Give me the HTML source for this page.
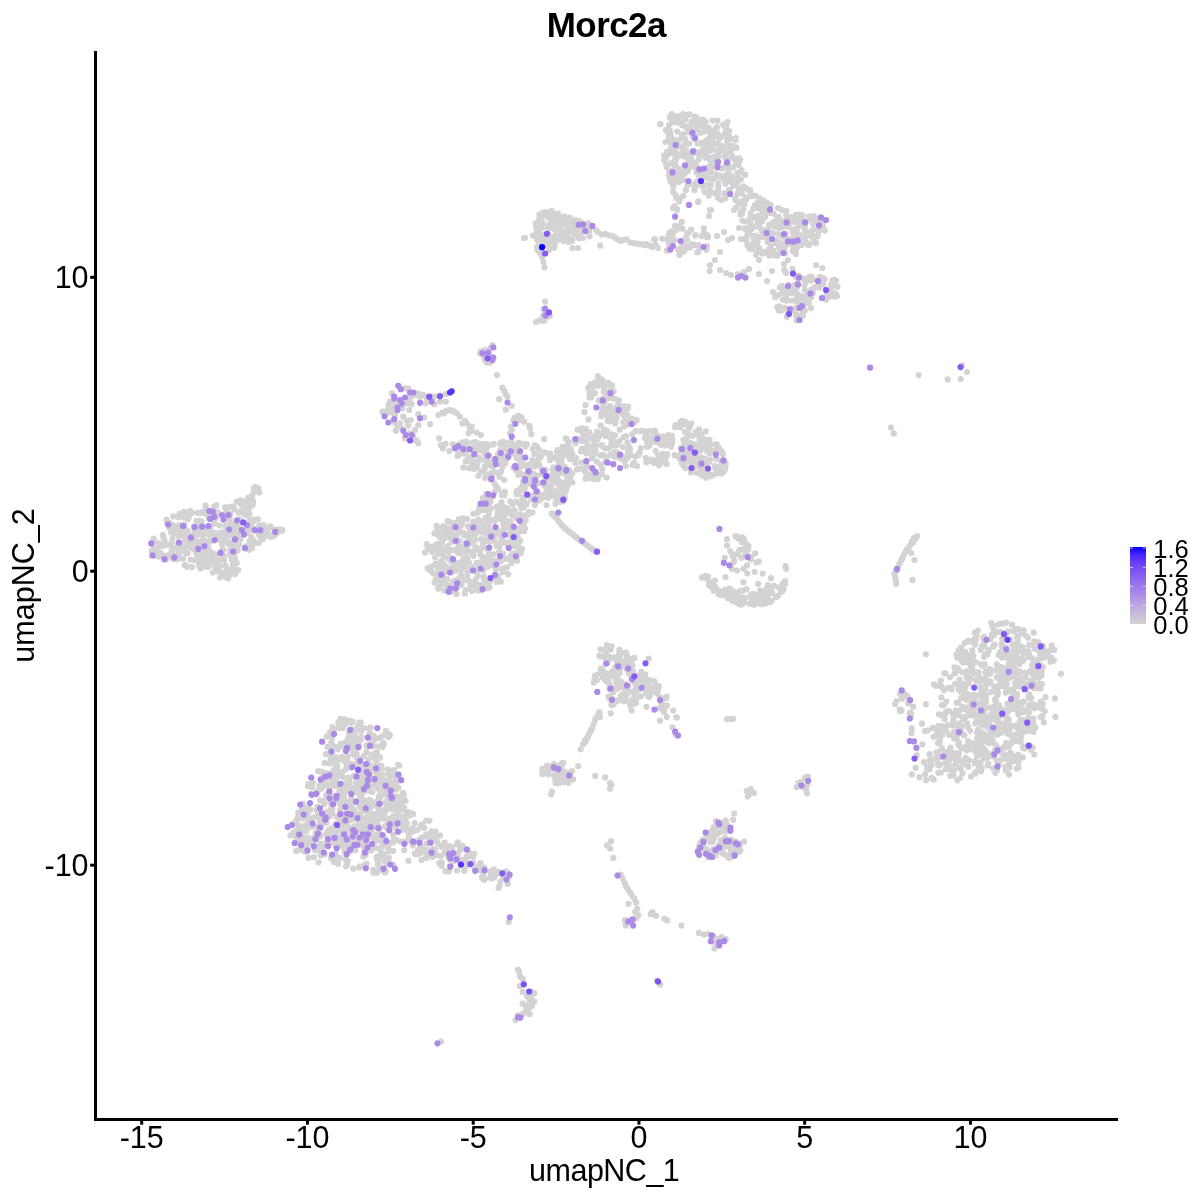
<!DOCTYPE html>
<html><head><meta charset="utf-8"><style>
html,body{margin:0;padding:0;background:#fff;width:1200px;height:1200px;overflow:hidden}
svg{display:block;will-change:transform}
text{font-family:"Liberation Sans",sans-serif;fill:#000}
.tk{font-size:30.5px}
.lg{font-size:25.5px}
</style></head><body>
<svg width="1200" height="1200" viewBox="0 0 1200 1200">
<rect width="1200" height="1200" fill="#fff"/>
<g fill="none" stroke-linecap="round" stroke-width="6.2">
<path stroke="#d3d3d3" d="M192.5 542.0h0M240.8 503.4h0M202.5 526.6h0M194.6 533.3h0M230.4 550.3h0M240.4 501.9h0M239.6 512.2h0M209.3 535.3h0M179.5 525.2h0M171.4 547.1h0M195.6 544.5h0M212.4 560.1h0M185.7 541.1h0M259.6 527.2h0M175.8 526.5h0M230.4 514.2h0M264.9 528.3h0M223.3 557.9h0M184.4 524.6h0M184.7 565.0h0M197.7 546.7h0M234.4 541.5h0M187.8 544.0h0M232.8 536.6h0M209.2 517.9h0M170.0 545.1h0M213.7 555.2h0M213.9 519.2h0M184.2 511.5h0M184.9 539.4h0M214.8 533.1h0M178.4 554.9h0M216.5 505.2h0M183.0 558.7h0M174.1 533.1h0M265.9 535.2h0M250.8 544.7h0M232.1 526.2h0M252.1 505.3h0M183.4 544.1h0M233.0 567.2h0M222.1 539.4h0M173.3 516.4h0M183.2 529.7h0M160.7 555.1h0M207.5 528.8h0M233.1 571.8h0M178.1 516.9h0M209.3 510.7h0M187.0 530.5h0M172.5 530.6h0M224.1 560.6h0M199.2 558.0h0M218.1 512.4h0M194.7 540.0h0M187.9 531.4h0M187.8 553.1h0M214.7 563.5h0M153.5 538.7h0M250.5 546.1h0M194.4 527.4h0M196.5 524.4h0M206.7 553.9h0M214.6 534.3h0M255.2 487.1h0M245.0 531.5h0M186.7 553.5h0M196.6 554.3h0M253.2 540.2h0M196.2 525.4h0M214.1 553.9h0M172.6 525.1h0M221.7 575.2h0M207.1 560.5h0M171.8 551.3h0M247.2 531.5h0M219.5 525.5h0M245.3 532.3h0M251.8 503.5h0M232.8 506.6h0M222.1 544.5h0M169.6 554.5h0M267.9 533.0h0M216.4 571.2h0M223.3 573.2h0M190.7 559.7h0M243.5 505.5h0M166.0 559.3h0M251.9 496.2h0M208.7 526.9h0M252.7 504.9h0M205.5 505.7h0M155.7 556.0h0M179.4 547.9h0M281.9 531.0h0M154.1 547.9h0M237.7 533.7h0M196.3 530.0h0M200.0 563.6h0M179.6 535.5h0M263.1 539.1h0M213.2 554.6h0M203.6 534.1h0M164.5 540.4h0M217.7 537.8h0M258.8 543.0h0M214.3 523.1h0M221.3 537.3h0M170.2 526.3h0M230.7 549.6h0M271.8 536.1h0M179.8 516.5h0M237.6 537.7h0M240.6 539.1h0M178.6 536.5h0M194.8 537.7h0M208.4 526.3h0M211.7 515.0h0M191.7 513.0h0M254.6 543.0h0M218.6 571.0h0M214.1 506.8h0M253.7 520.7h0M199.1 565.4h0M170.3 524.5h0M187.0 537.7h0M207.0 558.3h0M215.1 555.7h0M154.5 554.5h0M230.2 519.6h0M224.4 514.2h0M178.4 550.9h0M158.8 556.5h0M185.0 547.2h0M241.8 504.4h0M194.2 528.2h0M171.9 557.3h0M257.8 519.4h0M178.3 543.5h0M201.2 534.8h0M270.7 537.0h0M201.6 521.6h0M207.0 552.0h0M242.3 512.6h0M194.4 549.8h0M199.3 520.7h0M215.7 554.5h0M210.8 541.1h0M183.1 547.6h0M201.7 564.1h0M205.4 513.8h0M186.9 533.6h0M189.2 516.3h0M167.2 523.5h0M250.9 540.5h0M207.9 514.3h0M222.0 550.4h0M217.8 533.3h0M238.6 527.2h0M172.6 531.3h0M197.6 531.1h0M199.8 541.7h0M207.3 547.3h0M247.7 515.3h0M156.3 553.3h0M214.3 562.4h0M254.0 487.9h0M173.6 547.5h0M201.3 528.2h0M237.9 550.4h0M189.5 542.8h0M158.8 543.4h0M170.2 525.3h0M194.8 549.0h0M188.5 515.4h0M239.5 519.3h0M196.4 520.8h0M248.0 508.2h0M249.7 520.6h0M203.4 539.7h0M208.0 567.0h0M231.2 570.7h0M249.3 528.7h0M258.7 530.5h0M206.0 532.7h0M238.4 512.7h0M239.8 522.8h0M216.9 534.5h0M172.4 554.2h0M259.3 525.7h0M182.6 544.8h0M178.2 558.5h0M245.9 546.3h0M233.1 545.8h0M191.0 536.2h0M183.9 517.6h0M274.8 529.5h0M225.8 527.6h0M211.4 540.9h0M204.1 511.3h0M200.6 568.4h0M171.0 532.4h0M234.8 549.1h0M197.7 512.9h0M268.3 529.1h0M166.5 519.7h0M212.8 572.5h0M228.6 544.0h0M247.9 532.6h0M238.0 570.0h0M207.2 562.8h0M248.3 500.8h0M201.2 512.8h0M207.4 541.8h0M169.1 527.5h0M229.0 542.5h0M276.7 533.1h0M163.4 537.2h0M190.2 510.9h0M187.3 566.8h0M226.8 529.0h0M222.0 536.1h0M182.1 551.1h0M251.6 528.2h0M184.2 514.4h0M215.5 563.4h0M227.8 533.2h0M159.1 545.4h0M212.1 563.5h0M195.8 535.5h0M154.6 541.3h0M188.0 515.8h0M249.8 507.0h0M186.2 532.9h0M243.5 530.6h0M245.2 514.7h0M162.8 535.1h0M261.8 527.6h0M226.8 510.4h0M226.1 531.9h0M267.0 531.8h0M201.1 565.0h0M172.4 538.9h0M205.6 505.7h0M210.7 529.0h0M223.5 550.1h0M253.1 503.2h0M235.0 558.3h0M202.9 556.3h0M237.9 526.4h0M202.6 511.8h0M183.1 543.6h0M229.5 554.6h0M249.1 549.2h0M231.6 559.3h0M184.2 536.8h0M236.2 537.6h0M205.2 513.1h0M209.9 511.1h0M151.6 550.8h0M189.1 541.3h0M216.0 517.9h0M203.4 566.4h0M199.6 546.3h0M235.2 537.2h0M241.8 506.1h0M226.5 537.4h0M190.4 547.3h0M209.2 562.2h0M251.1 543.2h0M223.2 555.6h0M249.6 541.3h0M225.1 507.4h0M249.7 505.0h0M172.1 528.4h0M197.3 529.7h0M183.4 532.0h0M226.1 577.3h0M248.8 508.5h0M170.3 526.9h0M158.3 550.5h0M249.3 528.1h0M226.1 571.8h0M205.7 512.1h0M192.1 548.0h0M251.9 548.2h0M178.2 528.9h0M185.9 529.8h0M226.1 512.8h0M188.9 540.9h0M164.5 559.5h0M173.2 559.1h0M249.5 513.8h0M211.6 533.2h0M225.3 565.5h0M239.2 544.8h0M218.9 559.9h0M225.4 518.1h0M233.6 525.9h0M188.5 537.1h0M165.4 555.9h0M230.3 574.1h0M224.1 538.8h0M251.5 524.0h0M232.6 524.7h0M227.2 542.3h0M244.4 501.6h0M253.2 501.0h0M232.0 527.9h0M195.2 560.4h0M182.3 514.2h0M234.4 533.1h0M165.9 544.8h0M204.7 549.7h0M183.7 542.6h0M234.2 524.3h0M177.3 558.8h0M228.4 532.3h0M202.4 552.1h0M191.8 567.2h0M160.9 553.0h0M198.9 549.5h0M169.4 522.6h0M251.2 536.8h0M210.4 551.6h0M225.8 525.9h0M208.5 554.5h0M188.1 519.1h0M179.8 513.6h0M232.8 564.8h0M229.3 527.7h0M219.9 540.0h0M191.2 543.2h0M208.2 546.9h0M223.4 515.1h0M155.0 555.3h0M262.7 532.6h0M233.3 566.1h0M227.1 516.9h0M163.2 546.0h0M176.3 559.3h0M194.2 526.6h0M211.5 557.3h0M198.0 521.7h0M223.3 576.2h0M185.2 565.2h0M218.1 564.4h0M252.0 496.1h0M234.4 553.6h0M233.3 532.3h0M278.9 529.8h0M210.1 553.1h0M171.5 542.6h0M180.8 532.1h0M204.0 558.3h0M213.8 523.6h0M230.1 521.5h0M234.4 509.2h0M229.0 507.3h0M236.7 530.8h0M248.4 532.5h0M221.7 532.6h0M264.6 536.2h0M253.7 519.7h0M178.9 529.2h0M160.9 544.2h0M199.1 565.7h0M249.0 549.8h0M217.4 565.2h0M557.8 459.6h0M534.9 445.4h0M520.3 473.1h0M523.1 464.0h0M472.6 442.5h0M500.1 450.4h0M517.3 444.0h0M516.6 458.0h0M507.5 458.3h0M469.0 468.2h0M527.4 473.7h0M557.9 470.4h0M529.1 477.1h0M468.2 448.1h0M552.6 457.5h0M539.1 449.8h0M471.5 466.0h0M532.2 460.0h0M550.0 478.7h0M514.4 451.1h0M477.5 463.3h0M520.5 473.0h0M486.2 457.0h0M507.8 451.0h0M483.6 445.4h0M557.7 453.2h0M491.8 464.7h0M479.1 450.0h0M561.7 458.7h0M483.2 451.3h0M520.6 463.3h0M539.3 465.4h0M454.8 445.9h0M558.6 468.1h0M452.8 444.4h0M568.0 444.8h0M475.6 465.7h0M560.6 464.6h0M524.6 465.5h0M566.7 446.9h0M504.5 459.8h0M467.5 460.0h0M537.0 446.5h0M548.3 454.2h0M566.3 472.9h0M544.7 452.4h0M485.0 468.1h0M465.7 461.4h0M533.9 460.9h0M534.7 461.1h0M505.7 447.0h0M479.9 459.6h0M485.3 454.2h0M492.9 466.8h0M475.3 442.1h0M500.7 442.6h0M485.3 444.1h0M519.1 442.9h0M540.0 456.2h0M500.1 458.2h0M568.5 441.8h0M569.3 470.4h0M474.1 461.9h0M495.3 460.7h0M539.0 456.9h0M563.5 449.3h0M476.7 467.4h0M489.3 445.1h0M485.7 459.2h0M486.2 450.6h0M561.4 467.4h0M507.0 446.9h0M559.9 453.5h0M562.2 472.7h0M484.6 466.8h0M489.0 455.0h0M523.1 443.9h0M528.5 468.8h0M538.5 463.6h0M564.3 470.9h0M529.1 469.8h0M484.3 452.6h0M534.4 466.6h0M460.6 443.9h0M493.6 444.6h0M514.1 453.6h0M540.7 456.8h0M485.1 478.1h0M518.2 458.9h0M511.3 441.5h0M457.5 445.2h0M542.2 469.7h0M538.2 460.3h0M515.1 447.6h0M470.9 467.8h0M508.3 447.2h0M533.4 473.9h0M464.4 442.4h0M501.9 464.5h0M462.7 442.3h0M505.2 463.6h0M467.1 443.4h0M489.1 476.3h0M495.6 460.2h0M545.6 470.2h0M499.4 476.7h0M457.5 455.8h0M525.6 446.5h0M500.2 444.1h0M557.3 469.5h0M526.8 444.2h0M449.3 451.1h0M557.0 452.2h0M468.3 457.1h0M518.8 445.1h0M479.3 443.5h0M467.2 450.6h0M557.5 456.1h0M534.3 461.1h0M481.1 471.4h0M545.9 474.5h0M468.8 460.5h0M543.0 470.5h0M523.3 475.2h0M550.0 460.2h0M500.7 464.3h0M534.3 453.8h0M542.9 474.6h0M515.1 446.2h0M513.3 467.5h0M529.0 472.1h0M495.6 472.4h0M493.7 443.9h0M519.3 453.9h0M477.5 462.4h0M528.9 464.7h0M507.6 443.5h0M442.8 448.4h0M561.5 471.5h0M554.3 474.2h0M491.1 473.0h0M464.1 445.7h0M495.5 460.7h0M552.8 469.9h0M458.5 453.0h0M460.0 453.8h0M531.9 475.4h0M566.7 475.3h0M562.7 446.5h0M474.4 448.0h0M566.5 472.2h0M501.1 471.6h0M474.0 468.7h0M478.4 475.7h0M532.7 448.7h0M504.9 448.4h0M516.2 469.9h0M555.9 457.7h0M569.7 449.2h0M513.8 449.9h0M486.9 447.1h0M512.2 450.5h0M564.6 466.9h0M490.1 462.1h0M568.7 470.1h0M490.2 465.3h0M445.6 443.8h0M604.1 402.6h0M616.9 411.8h0M604.3 413.4h0M628.1 424.3h0M607.3 409.8h0M619.0 400.3h0M609.6 385.4h0M589.6 396.8h0M612.8 408.4h0M598.7 383.0h0M636.6 420.2h0M624.5 421.7h0M609.8 420.5h0M623.2 422.2h0M634.2 422.5h0M612.4 419.4h0M612.1 385.3h0M615.2 409.0h0M604.4 401.3h0M602.4 409.3h0M608.4 398.1h0M605.3 392.4h0M625.5 419.5h0M617.6 405.2h0M608.9 409.5h0M599.4 401.1h0M634.3 421.1h0M591.7 389.8h0M610.0 405.8h0M602.7 380.3h0M608.3 382.8h0M613.2 391.6h0M624.2 406.0h0M627.0 415.2h0M621.5 407.7h0M613.6 412.0h0M631.4 418.3h0M613.7 391.1h0M627.5 408.7h0M607.8 416.0h0M611.9 434.9h0M607.4 413.7h0M623.6 415.0h0M601.0 399.7h0M600.4 378.9h0M605.9 397.8h0M602.1 382.9h0M630.2 418.8h0M615.3 423.4h0M622.8 414.0h0M601.2 414.1h0M590.9 384.1h0M628.1 406.7h0M628.5 418.0h0M632.4 420.7h0M591.6 393.5h0M623.4 411.8h0M627.4 419.5h0M601.9 412.5h0M603.9 390.0h0M618.5 403.8h0M610.4 415.5h0M610.1 421.5h0M594.9 393.1h0M625.1 421.6h0M604.6 385.6h0M610.8 408.5h0M589.7 397.4h0M591.1 390.4h0M599.8 380.9h0M604.1 387.8h0M607.5 421.0h0M598.8 400.3h0M595.3 385.7h0M613.2 398.4h0M629.4 420.3h0M596.1 382.2h0M613.2 412.3h0M617.2 412.4h0M603.4 406.4h0M628.6 418.1h0M627.0 407.9h0M594.2 383.2h0M626.9 416.4h0M605.7 409.3h0M616.7 417.8h0M590.1 387.0h0M603.1 399.1h0M615.0 398.8h0M650.0 441.9h0M668.3 440.3h0M665.7 441.2h0M649.9 444.1h0M647.3 442.4h0M645.4 436.8h0M663.1 436.3h0M653.6 433.8h0M662.7 438.9h0M650.3 438.3h0M646.4 435.3h0M649.5 440.8h0M658.9 436.5h0M661.0 437.8h0M672.2 442.6h0M649.3 445.7h0M655.6 433.5h0M664.9 445.5h0M646.6 439.5h0M656.0 442.2h0M649.7 431.0h0M669.9 444.8h0M650.6 459.8h0M652.1 459.9h0M667.2 454.2h0M662.3 458.4h0M646.3 462.4h0M654.8 461.2h0M662.7 453.6h0M657.8 459.8h0M662.9 457.7h0M666.9 455.5h0M693.5 457.2h0M721.5 460.3h0M716.4 473.6h0M691.4 423.3h0M685.4 454.8h0M698.8 463.0h0M680.4 427.5h0M707.1 451.1h0M700.7 450.2h0M714.3 450.5h0M680.6 457.8h0M699.1 459.6h0M688.7 459.2h0M704.6 469.7h0M705.7 431.3h0M689.5 453.9h0M689.5 448.1h0M711.4 476.1h0M690.9 472.4h0M699.7 438.5h0M704.4 466.2h0M692.2 458.4h0M706.4 476.5h0M720.3 450.9h0M699.1 435.8h0M680.9 421.4h0M701.4 435.1h0M685.7 424.1h0M681.0 448.2h0M715.4 468.8h0M696.2 461.7h0M683.4 439.9h0M705.2 458.7h0M700.8 440.9h0M716.4 444.1h0M681.5 450.2h0M684.6 442.1h0M716.8 466.8h0M718.7 447.8h0M705.6 464.3h0M711.9 475.1h0M686.6 447.5h0M695.3 445.1h0M703.3 461.6h0M680.5 422.7h0M721.8 451.6h0M718.1 472.5h0M706.8 446.9h0M697.0 447.6h0M685.6 422.0h0M704.4 445.3h0M721.1 451.7h0M714.8 466.2h0M705.1 439.6h0M683.4 465.8h0M698.6 431.8h0M691.9 464.5h0M679.4 458.0h0M705.3 443.1h0M686.8 438.0h0M689.3 461.1h0M685.4 446.7h0M705.5 477.0h0M685.3 468.1h0M675.5 426.1h0M703.5 467.3h0M710.3 459.7h0M693.4 471.2h0M717.3 447.3h0M723.6 465.6h0M720.9 473.6h0M699.0 429.3h0M697.5 473.1h0M689.2 428.6h0M683.8 422.9h0M699.2 450.9h0M705.6 474.2h0M693.0 443.8h0M695.6 432.3h0M702.2 475.4h0M683.4 449.6h0M723.4 459.7h0M690.0 426.1h0M692.7 455.3h0M723.0 464.8h0M682.9 422.7h0M687.5 445.1h0M711.1 475.3h0M688.4 453.7h0M695.3 434.1h0M687.7 436.2h0M725.3 467.2h0M709.0 446.4h0M675.0 427.3h0M694.4 466.2h0M701.0 457.3h0M706.3 477.8h0M706.9 460.9h0M719.5 467.4h0M699.4 442.9h0M694.7 466.0h0M701.7 470.6h0M702.9 472.3h0M681.6 463.1h0M675.6 425.1h0M685.3 460.9h0M687.2 448.1h0M721.2 471.1h0M680.7 453.4h0M697.9 463.8h0M723.0 472.5h0M700.4 470.1h0M687.9 456.4h0M696.8 463.6h0M705.6 447.0h0M700.6 444.7h0M722.8 454.1h0M724.0 461.9h0M694.8 460.9h0M699.9 448.6h0M681.8 424.7h0M712.2 451.2h0M683.0 450.8h0M700.7 457.9h0M695.6 456.5h0M685.2 462.4h0M709.8 453.2h0M695.2 452.1h0M696.9 465.4h0M692.6 435.8h0M711.3 444.5h0M698.1 464.7h0M686.4 445.0h0M724.8 469.9h0M709.4 462.0h0M721.5 462.8h0M684.3 444.2h0M698.6 446.9h0M707.7 470.7h0M699.8 440.7h0M683.9 451.0h0M725.8 463.7h0M680.7 454.3h0M709.4 439.9h0M692.6 463.7h0M698.2 430.4h0M700.1 462.8h0M685.0 444.4h0M688.2 434.4h0M690.0 443.1h0M698.3 432.9h0M685.4 454.2h0M685.1 432.1h0M691.5 450.8h0M716.7 459.2h0M688.0 456.3h0M682.9 420.9h0M701.6 444.8h0M691.0 457.7h0M724.8 461.9h0M456.3 527.5h0M501.8 495.0h0M595.1 477.7h0M499.5 547.6h0M520.8 521.9h0M453.9 562.2h0M552.7 490.7h0M439.1 586.7h0M499.5 507.3h0M507.7 544.8h0M546.6 505.0h0M501.9 568.9h0M487.5 537.3h0M585.5 478.8h0M461.0 570.1h0M442.0 541.9h0M452.1 523.6h0M459.5 541.2h0M507.1 509.8h0M444.8 528.3h0M476.5 571.1h0M471.0 566.3h0M519.7 528.5h0M571.3 481.8h0M513.4 529.5h0M509.1 534.2h0M520.8 552.9h0M487.2 508.1h0M513.4 530.6h0M569.8 482.1h0M434.4 548.0h0M487.4 499.6h0M495.3 560.9h0M441.8 547.4h0M490.9 508.4h0M481.9 510.1h0M488.1 549.3h0M499.7 518.9h0M517.8 536.5h0M562.4 483.8h0M465.6 590.1h0M459.3 532.2h0M523.0 498.8h0M477.8 528.8h0M475.3 582.9h0M503.6 526.0h0M455.4 568.9h0M606.7 477.6h0M485.2 585.3h0M483.1 526.4h0M469.9 588.6h0M455.5 570.7h0M451.5 590.9h0M558.8 489.4h0M492.4 532.3h0M514.7 542.1h0M529.9 483.8h0M436.2 544.3h0M494.1 539.7h0M473.5 556.0h0M474.3 569.0h0M556.7 497.0h0M471.7 528.2h0M436.5 526.6h0M484.4 507.9h0M487.2 566.9h0M473.2 533.4h0M535.5 494.3h0M442.7 573.9h0M441.4 583.9h0M471.2 531.1h0M487.8 563.0h0M477.7 587.7h0M460.0 567.2h0M443.8 539.1h0M463.5 558.5h0M444.9 569.7h0M496.7 506.8h0M469.1 540.8h0M484.0 576.9h0M477.0 548.9h0M440.6 561.7h0M516.3 492.1h0M504.4 535.2h0M478.0 590.6h0M427.8 548.8h0M482.4 559.6h0M461.4 547.3h0M476.8 562.9h0M444.9 584.1h0M462.0 523.4h0M475.0 525.1h0M590.0 478.1h0M523.3 497.6h0M499.1 552.4h0M565.9 490.7h0M451.9 541.7h0M480.8 504.4h0M495.7 518.9h0M489.2 509.4h0M504.8 513.7h0M467.8 560.6h0M440.9 551.0h0M544.9 486.1h0M506.9 508.1h0M562.1 494.7h0M444.4 565.0h0M497.7 512.9h0M460.5 553.1h0M451.2 539.3h0M459.1 519.2h0M456.5 594.0h0M526.7 504.1h0M513.3 514.8h0M503.5 523.3h0M464.5 562.5h0M458.2 563.3h0M455.2 582.9h0M532.1 496.2h0M466.0 550.5h0M538.7 500.6h0M523.4 490.3h0M465.6 568.7h0M511.5 539.1h0M483.0 498.2h0M461.3 566.0h0M534.8 505.1h0M460.6 575.9h0M524.5 498.2h0M468.8 537.2h0M487.4 582.1h0M521.6 508.3h0M496.6 578.1h0M501.9 531.6h0M562.8 486.7h0M515.9 553.7h0M455.7 522.8h0M488.8 530.2h0M447.4 585.1h0M510.7 530.1h0M515.4 557.9h0M523.2 501.9h0M488.8 507.9h0M469.1 528.1h0M516.2 532.2h0M467.5 573.9h0M440.5 567.0h0M505.3 512.8h0M480.5 550.1h0M485.4 501.1h0M444.2 556.3h0M483.6 570.5h0M463.9 533.0h0M500.0 518.8h0M446.9 571.5h0M461.4 575.5h0M454.2 534.2h0M503.0 506.6h0M523.9 487.2h0M495.2 567.2h0M473.2 521.9h0M435.8 577.6h0M514.6 510.3h0M460.3 585.2h0M503.6 530.0h0M475.5 540.1h0M475.5 534.1h0M485.0 519.5h0M447.9 558.5h0M558.8 484.4h0M502.4 513.6h0M503.4 495.1h0M427.7 568.3h0M514.3 546.3h0M498.2 576.3h0M450.7 588.5h0M487.9 588.3h0M444.2 527.4h0M487.7 533.6h0M482.8 544.4h0M512.2 559.4h0M445.0 569.2h0M451.9 567.7h0M480.3 521.3h0M482.1 586.0h0M513.5 536.9h0M447.5 531.5h0M549.5 494.7h0M508.7 525.2h0M496.3 529.6h0M461.9 521.3h0M524.7 484.1h0M600.3 474.9h0M501.1 538.0h0M432.1 551.8h0M495.4 529.5h0M453.3 581.5h0M489.1 565.3h0M440.3 553.6h0M506.5 542.9h0M445.5 570.7h0M446.2 567.5h0M494.4 483.4h0M464.4 535.4h0M512.3 553.3h0M522.6 485.8h0M495.1 534.3h0M447.7 521.0h0M451.0 561.3h0M504.9 510.1h0M493.5 554.1h0M497.3 515.4h0M485.5 532.4h0M435.1 557.3h0M447.1 534.6h0M519.4 503.8h0M450.5 537.8h0M454.0 590.2h0M512.3 504.5h0M439.4 543.7h0M505.0 491.8h0M490.5 501.8h0M447.8 546.0h0M478.2 519.7h0M442.5 534.5h0M553.7 482.8h0M452.6 571.5h0M525.9 483.6h0M450.6 591.8h0M450.3 589.2h0M495.1 491.4h0M500.7 561.2h0M444.5 568.3h0M479.5 585.1h0M453.7 568.8h0M513.4 536.5h0M478.8 510.4h0M486.3 493.9h0M438.0 571.8h0M480.3 554.3h0M460.2 527.3h0M493.8 540.6h0M563.5 501.3h0M457.0 584.4h0M441.2 577.4h0M601.8 473.9h0M520.2 540.8h0M512.8 541.3h0M510.5 511.6h0M501.9 515.5h0M544.5 481.3h0M479.6 507.1h0M590.3 477.3h0M467.1 519.0h0M503.1 553.6h0M438.3 552.7h0M467.1 547.5h0M565.2 491.8h0M436.7 525.9h0M553.0 480.9h0M475.8 579.4h0M511.7 515.1h0M454.7 565.0h0M524.2 506.8h0M524.2 519.2h0M454.9 590.9h0M491.9 496.6h0M490.9 565.1h0M566.4 487.1h0M437.2 549.9h0M490.9 497.6h0M517.1 492.4h0M496.5 581.8h0M430.3 570.4h0M479.9 562.8h0M443.2 526.2h0M522.9 484.4h0M438.9 579.8h0M434.5 546.9h0M452.3 550.0h0M507.3 567.3h0M522.7 488.2h0M506.3 542.7h0M537.8 498.6h0M502.2 493.0h0M516.0 518.2h0M433.1 573.0h0M444.2 532.6h0M520.8 531.0h0M512.3 541.9h0M496.7 545.9h0M547.8 488.3h0M445.4 535.1h0M431.3 566.6h0M489.3 541.4h0M497.7 507.9h0M488.1 550.1h0M509.5 512.0h0M510.4 555.9h0M448.1 529.2h0M473.0 583.0h0M485.9 517.6h0M454.5 562.9h0M451.6 533.4h0M531.4 499.5h0M523.3 515.4h0M501.5 502.4h0M528.3 514.4h0M476.6 547.6h0M484.0 562.8h0M565.8 482.7h0M469.1 534.5h0M467.3 578.2h0M457.1 535.0h0M503.1 510.3h0M472.5 554.8h0M443.0 564.4h0M534.8 488.4h0M449.3 532.1h0M486.5 525.3h0M485.3 496.2h0M464.9 593.5h0M460.8 562.3h0M486.6 540.3h0M502.3 532.7h0M546.2 492.3h0M518.6 493.5h0M516.4 557.0h0M504.0 542.0h0M487.9 581.7h0M517.1 560.7h0M464.2 580.1h0M555.5 503.8h0M468.0 526.1h0M457.3 579.6h0M435.5 563.8h0M450.0 557.7h0M525.1 504.4h0M487.0 535.6h0M452.7 540.8h0M484.6 509.9h0M481.9 540.0h0M524.3 489.4h0M542.8 496.2h0M483.8 557.3h0M458.3 552.7h0M458.7 568.3h0M510.2 501.3h0M537.4 496.0h0M523.1 481.6h0M494.5 520.8h0M523.0 525.3h0M518.9 551.8h0M438.7 529.1h0M522.4 518.7h0M494.2 561.4h0M466.0 542.6h0M489.0 513.5h0M519.6 514.4h0M516.7 491.1h0M514.4 532.6h0M524.2 531.2h0M493.2 540.6h0M437.3 549.6h0M436.4 532.1h0M516.7 492.3h0M551.3 485.3h0M464.6 535.1h0M489.8 519.7h0M466.0 560.7h0M445.7 527.0h0M460.1 583.1h0M434.6 582.4h0M505.2 567.8h0M511.2 529.6h0M473.4 513.8h0M460.2 582.4h0M438.6 533.4h0M483.6 498.0h0M461.6 584.5h0M470.7 541.2h0M489.9 581.2h0M450.0 528.9h0M528.6 512.0h0M510.3 521.7h0M511.6 532.0h0M430.9 568.3h0M513.4 510.6h0M512.1 544.7h0M508.7 527.2h0M500.6 504.8h0M456.4 549.7h0M453.0 581.9h0M485.0 559.1h0M471.5 534.9h0M505.3 520.2h0M446.9 588.9h0M551.4 495.2h0M434.4 533.5h0M434.9 546.7h0M504.9 558.7h0M449.2 558.3h0M485.6 506.6h0M470.0 570.0h0M498.2 488.8h0M467.1 558.1h0M500.6 534.8h0M563.3 499.5h0M518.7 546.8h0M495.1 534.4h0M482.3 504.9h0M466.7 563.0h0M548.0 485.3h0M442.3 575.2h0M565.7 491.5h0M463.4 518.3h0M471.3 589.8h0M511.3 563.1h0M465.4 551.9h0M520.3 488.8h0M483.6 532.1h0M503.4 542.4h0M483.7 546.9h0M469.0 562.8h0M481.3 539.0h0M456.4 587.4h0M515.9 535.1h0M466.7 551.7h0M488.9 524.9h0M439.9 537.1h0M450.2 522.1h0M522.3 498.4h0M470.5 585.8h0M505.3 513.9h0M458.4 545.1h0M572.4 482.5h0M523.9 523.1h0M468.9 580.8h0M430.7 569.7h0M478.9 521.7h0M468.9 535.3h0M448.9 551.6h0M459.9 547.8h0M548.2 497.8h0M544.2 497.1h0M498.4 543.5h0M488.8 554.4h0M559.8 495.6h0M554.1 482.6h0M480.7 590.4h0M475.0 550.2h0M593.7 478.9h0M537.1 498.3h0M487.0 558.1h0M522.1 549.0h0M551.1 489.4h0M527.4 483.1h0M475.5 585.6h0M473.3 568.2h0M597.8 479.1h0M516.1 501.6h0M481.1 585.1h0M489.6 587.2h0M441.4 561.0h0M514.6 558.9h0M547.6 496.4h0M495.8 570.3h0M447.7 558.3h0M491.3 559.9h0M472.1 551.7h0M534.0 495.3h0M548.9 485.6h0M487.1 588.2h0M444.5 578.3h0M438.3 588.7h0M525.7 520.3h0M506.4 559.0h0M454.3 581.1h0M442.4 583.9h0M504.4 495.4h0M462.5 549.3h0M472.7 543.7h0M447.7 528.8h0M438.2 535.1h0M498.0 578.4h0M557.6 493.0h0M512.1 527.9h0M441.7 562.8h0M480.4 504.6h0M483.9 578.9h0M449.0 537.2h0M440.5 577.7h0M446.9 578.9h0M501.8 541.9h0M516.6 554.2h0M452.4 535.4h0M472.1 591.0h0M448.6 571.3h0M476.0 526.1h0M502.8 571.9h0M455.0 550.3h0M477.6 512.7h0M480.5 524.9h0M477.9 575.4h0M490.6 540.4h0M515.3 536.9h0M564.8 497.7h0M481.6 532.5h0M444.3 590.5h0M479.2 568.4h0M496.3 486.4h0M437.2 566.5h0M515.7 541.1h0M653.5 437.6h0M586.4 450.5h0M639.6 452.6h0M591.9 458.3h0M604.5 447.9h0M624.0 457.3h0M623.7 437.1h0M613.4 453.8h0M596.6 461.6h0M581.9 431.4h0M588.8 476.5h0M612.1 455.5h0M594.1 454.5h0M630.0 449.8h0M661.7 460.2h0M629.5 447.4h0M553.5 467.3h0M659.0 465.3h0M674.6 455.2h0M611.3 443.9h0M627.9 452.1h0M641.5 430.6h0M672.4 440.0h0M640.9 448.0h0M561.7 463.4h0M617.4 452.8h0M588.5 437.5h0M600.4 455.6h0M647.1 446.7h0M664.0 455.7h0M595.4 450.7h0M605.7 461.8h0M617.2 444.1h0M645.6 457.8h0M601.2 445.7h0M603.7 455.0h0M583.0 469.1h0M654.8 430.5h0M558.9 460.2h0M565.0 468.2h0M584.7 434.4h0M568.7 452.8h0M595.2 435.8h0M650.2 460.8h0M660.7 444.7h0M655.8 451.0h0M580.9 451.3h0M672.0 435.8h0M572.1 473.9h0M665.2 460.0h0M645.0 431.5h0M668.7 435.0h0M661.2 459.4h0M664.2 462.3h0M602.0 445.0h0M586.5 439.8h0M627.9 449.2h0M584.0 441.1h0M558.9 465.2h0M592.2 474.0h0M581.6 462.4h0M587.0 466.7h0M561.2 462.1h0M567.0 474.6h0M587.7 445.0h0M671.2 446.7h0M644.8 438.0h0M619.7 440.8h0M575.9 458.2h0M613.7 441.3h0M583.4 435.8h0M554.7 476.4h0M577.9 438.8h0M586.0 472.8h0M595.2 444.9h0M629.9 455.5h0M576.8 469.6h0M570.1 459.2h0M629.2 447.4h0M588.6 432.3h0M575.4 443.3h0M614.2 453.2h0M610.2 438.0h0M615.1 456.7h0M627.3 458.3h0M666.7 464.1h0M654.2 463.0h0M566.9 480.5h0M637.8 454.8h0M594.8 452.5h0M557.9 468.2h0M597.1 431.9h0M561.4 467.7h0M653.0 439.9h0M589.3 432.4h0M579.3 468.6h0M623.2 457.2h0M584.5 471.0h0M570.2 477.0h0M632.7 464.9h0M658.2 455.3h0M646.1 431.3h0M569.5 240.8h0M580.5 224.7h0M537.4 249.9h0M538.9 220.9h0M567.7 218.6h0M579.1 238.2h0M539.0 242.1h0M551.3 210.9h0M550.4 244.8h0M549.5 239.1h0M580.3 226.9h0M579.2 233.3h0M558.1 213.5h0M586.1 224.8h0M551.2 236.7h0M559.7 238.5h0M589.2 230.7h0M554.8 229.6h0M539.5 231.8h0M549.5 224.9h0M550.9 214.4h0M544.3 238.8h0M568.6 242.0h0M552.6 212.6h0M561.5 224.0h0M548.8 240.8h0M552.1 237.6h0M566.8 227.3h0M555.5 217.8h0M548.4 228.2h0M562.9 217.5h0M558.2 239.7h0M543.1 223.7h0M552.5 227.8h0M549.6 242.8h0M552.1 242.0h0M577.1 233.0h0M588.2 223.3h0M555.1 240.1h0M546.0 212.0h0M570.1 227.0h0M559.2 222.1h0M550.3 239.0h0M567.2 224.6h0M563.6 223.4h0M555.8 237.1h0M540.4 237.7h0M548.9 227.4h0M551.6 221.3h0M537.6 249.4h0M536.0 233.0h0M555.2 216.0h0M572.6 224.6h0M541.8 217.7h0M572.4 240.2h0M541.8 246.7h0M542.5 227.5h0M563.0 235.2h0M573.9 231.6h0M539.5 245.2h0M558.0 221.0h0M552.5 239.0h0M537.1 239.8h0M571.5 239.2h0M547.9 243.6h0M571.0 223.8h0M567.6 238.5h0M553.9 218.5h0M558.1 219.5h0M564.5 216.3h0M567.6 232.1h0M560.5 229.6h0M539.0 236.2h0M585.6 227.6h0M535.7 223.4h0M544.5 213.6h0M558.1 225.5h0M538.8 226.9h0M543.1 212.4h0M581.9 223.5h0M558.9 226.3h0M575.5 228.5h0M567.1 219.2h0M559.7 224.7h0M539.5 240.5h0M598.0 232.0h0M547.8 233.4h0M558.6 236.8h0M558.5 219.9h0M561.0 223.1h0M579.2 235.7h0M556.4 240.1h0M562.7 220.0h0M574.9 221.4h0M575.3 234.0h0M564.8 239.2h0M567.7 221.3h0M539.2 219.1h0M540.4 237.6h0M563.6 223.8h0M544.1 214.0h0M552.8 222.1h0M580.6 233.3h0M570.5 231.9h0M541.9 235.3h0M562.4 239.4h0M537.7 239.9h0M570.5 223.8h0M556.9 226.6h0M544.6 245.1h0M560.1 223.1h0M582.9 238.0h0M536.7 227.8h0M539.4 214.8h0M551.4 243.7h0M540.3 214.9h0M578.5 237.4h0M540.8 249.9h0M548.3 217.7h0M569.8 217.6h0M559.1 225.2h0M556.4 235.4h0M558.8 237.2h0M541.4 220.3h0M573.7 231.2h0M549.9 241.0h0M576.5 234.3h0M589.5 236.2h0M537.6 228.4h0M567.3 234.8h0M589.2 230.3h0M559.2 235.2h0M571.8 226.6h0M557.0 235.5h0M540.1 222.1h0M579.7 221.4h0M554.9 237.8h0M570.1 230.8h0M562.3 239.7h0M536.1 226.6h0M552.6 242.4h0M579.0 236.2h0M595.9 230.0h0M580.2 225.1h0M563.6 240.9h0M573.9 223.7h0M556.2 215.5h0M565.9 232.0h0M572.1 241.1h0M554.9 244.8h0M575.6 220.2h0M710.4 134.1h0M705.7 157.0h0M735.0 180.5h0M673.6 185.7h0M700.9 181.1h0M660.5 124.2h0M670.3 132.1h0M710.5 145.2h0M670.8 149.0h0M708.6 171.8h0M710.5 144.6h0M723.6 178.7h0M706.3 157.6h0M672.5 121.5h0M725.3 157.2h0M727.1 141.6h0M718.2 190.6h0M684.7 173.7h0M733.0 167.4h0M720.3 151.3h0M673.9 139.8h0M689.4 156.3h0M673.7 163.2h0M730.7 138.8h0M737.6 175.1h0M668.9 175.0h0M683.6 172.1h0M717.4 156.5h0M725.8 131.3h0M730.1 189.7h0M669.8 139.1h0M700.6 151.5h0M697.3 128.8h0M672.1 114.4h0M705.7 140.9h0M681.9 125.2h0M710.3 150.7h0M670.9 163.4h0M682.2 146.8h0M728.8 158.8h0M723.0 147.3h0M713.7 137.1h0M669.3 151.5h0M665.7 158.2h0M719.1 175.6h0M690.5 155.7h0M696.5 117.6h0M665.9 164.1h0M708.8 195.7h0M676.0 176.2h0M738.6 165.0h0M664.1 155.6h0M697.4 143.6h0M709.1 178.3h0M666.0 130.2h0M735.7 138.1h0M738.2 178.3h0M704.2 145.6h0M712.4 157.6h0M685.1 119.6h0M729.1 131.0h0M680.0 155.3h0M676.0 116.7h0M673.0 117.3h0M715.3 193.7h0M674.7 163.7h0M709.9 133.6h0M677.2 153.4h0M704.8 152.1h0M704.6 191.8h0M726.1 165.5h0M679.5 181.2h0M709.5 143.1h0M672.3 122.6h0M710.8 184.6h0M678.3 178.8h0M714.6 192.8h0M706.2 184.9h0M726.0 153.1h0M670.2 132.7h0M736.4 147.7h0M696.3 172.3h0M676.0 176.5h0M716.4 161.6h0M693.6 134.3h0M716.0 174.5h0M677.5 179.3h0M709.8 192.8h0M710.5 160.7h0M723.9 134.9h0M684.2 115.9h0M714.8 131.0h0M719.4 138.4h0M705.6 121.7h0M717.3 120.7h0M733.9 181.5h0M678.2 181.6h0M675.2 181.6h0M723.6 176.1h0M688.8 160.2h0M676.5 118.8h0M692.5 166.2h0M731.2 177.3h0M721.6 145.8h0M693.1 184.7h0M725.1 147.2h0M716.6 150.7h0M725.3 177.7h0M732.7 145.8h0M689.6 114.4h0M721.1 146.2h0M674.3 149.5h0M672.0 170.7h0M676.9 122.4h0M682.5 175.2h0M726.0 135.7h0M691.5 121.6h0M696.2 167.9h0M711.4 172.1h0M673.6 145.3h0M705.6 157.5h0M701.3 125.5h0M712.0 146.7h0M718.0 193.8h0M695.8 164.6h0M679.0 181.9h0M670.7 181.4h0M677.2 131.5h0M668.0 154.2h0M696.7 181.8h0M672.0 153.2h0M716.9 158.1h0M667.8 152.5h0M673.3 149.6h0M684.4 144.9h0M694.8 139.0h0M699.7 177.2h0M679.3 139.5h0M708.4 143.1h0M728.7 135.4h0M716.7 165.8h0M707.0 178.2h0M738.8 158.0h0M702.8 186.8h0M722.6 167.8h0M713.7 135.1h0M701.4 173.9h0M683.1 173.1h0M676.7 147.2h0M682.4 115.7h0M727.2 174.6h0M675.0 168.7h0M705.3 127.8h0M697.5 184.8h0M685.2 139.0h0M674.3 161.2h0M735.1 185.7h0M687.7 165.4h0M702.3 174.5h0M673.1 181.2h0M699.5 154.4h0M708.0 168.4h0M680.0 174.0h0M737.6 177.5h0M696.1 125.0h0M724.3 193.7h0M669.0 125.1h0M712.8 140.4h0M717.5 168.1h0M674.9 179.7h0M696.5 123.6h0M687.5 126.3h0M678.2 119.1h0M694.4 120.6h0M703.9 131.7h0M696.2 152.9h0M717.7 143.9h0M723.2 124.7h0M673.0 115.4h0M721.1 200.0h0M692.4 135.9h0M710.9 159.8h0M709.8 188.0h0M675.0 171.7h0M677.4 174.3h0M682.9 180.0h0M705.8 151.6h0M677.7 172.0h0M689.1 154.2h0M705.3 127.2h0M698.7 175.2h0M687.7 132.2h0M683.0 156.0h0M705.0 176.1h0M713.6 142.8h0M733.1 182.9h0M711.0 172.5h0M674.4 161.5h0M691.0 127.0h0M671.3 118.7h0M698.0 171.7h0M706.5 156.4h0M715.8 128.4h0M703.3 146.5h0M681.6 122.4h0M731.0 175.5h0M735.5 140.1h0M728.1 166.5h0M675.9 165.9h0M726.4 136.7h0M739.2 159.0h0M664.1 160.1h0M736.0 164.3h0M730.2 152.0h0M693.1 135.9h0M685.4 115.1h0M709.7 144.1h0M694.0 150.9h0M708.9 142.4h0M728.3 170.4h0M718.2 198.0h0M686.1 150.1h0M669.7 117.5h0M672.0 181.5h0M679.2 116.0h0M671.6 146.7h0M709.5 130.9h0M677.6 144.7h0M666.6 167.1h0M725.1 198.4h0M717.1 127.2h0M674.3 154.4h0M669.3 141.7h0M698.8 159.2h0M694.5 136.3h0M718.6 176.6h0M685.9 116.0h0M668.2 132.8h0M669.3 171.7h0M679.5 168.9h0M697.3 167.6h0M713.9 161.6h0M699.7 120.9h0M683.2 114.0h0M706.4 142.4h0M732.3 155.9h0M712.6 120.6h0M702.1 171.5h0M668.9 137.8h0M670.8 136.4h0M699.6 120.1h0M675.5 195.2h0M710.9 134.0h0M682.8 134.4h0M718.4 186.6h0M709.0 138.6h0M672.5 115.2h0M689.5 167.0h0M686.5 157.8h0M695.1 116.5h0M713.9 156.8h0M718.4 155.8h0M737.3 182.4h0M684.5 155.9h0M691.2 158.8h0M687.9 171.0h0M722.5 136.1h0M694.4 162.5h0M732.5 148.4h0M667.1 151.7h0M669.9 130.7h0M709.4 148.3h0M722.3 177.3h0M713.2 178.8h0M665.4 142.0h0M701.6 153.6h0M728.5 165.3h0M712.2 135.3h0M700.6 143.0h0M711.6 167.2h0M689.4 143.6h0M740.8 179.5h0M740.2 160.1h0M686.1 168.3h0M703.2 119.7h0M726.0 128.0h0M676.0 159.8h0M737.6 179.0h0M713.3 134.8h0M728.8 145.9h0M700.0 132.8h0M740.3 172.4h0M717.6 133.5h0M718.2 160.9h0M728.8 190.0h0M708.2 127.5h0M682.9 151.1h0M692.6 164.2h0M685.7 127.1h0M698.8 120.2h0M694.3 122.3h0M681.9 135.3h0M741.5 170.1h0M737.3 173.1h0M689.5 114.8h0M701.2 142.8h0M718.3 183.1h0M701.3 169.5h0M673.2 186.4h0M733.0 185.2h0M719.8 167.7h0M729.2 181.1h0M724.7 156.5h0M727.6 122.1h0M711.3 130.6h0M735.0 159.7h0M726.1 126.2h0M709.6 166.6h0M745.1 174.7h0M687.8 185.0h0M671.5 114.2h0M721.7 168.5h0M725.5 183.7h0M701.2 125.9h0M742.6 201.1h0M810.1 216.7h0M757.7 226.3h0M736.4 207.5h0M783.5 234.4h0M760.4 221.9h0M769.2 209.0h0M786.0 244.0h0M769.0 213.0h0M768.2 238.1h0M770.9 253.5h0M797.4 242.3h0M777.6 254.6h0M769.3 248.9h0M761.9 221.4h0M777.8 242.1h0M794.3 235.8h0M819.8 219.6h0M794.5 237.3h0M813.2 238.9h0M762.4 201.9h0M747.0 198.3h0M783.6 221.4h0M817.7 236.0h0M758.6 208.3h0M742.6 204.6h0M811.8 218.1h0M753.4 208.7h0M777.5 222.0h0M757.4 216.3h0M773.1 252.4h0M797.2 222.5h0M811.8 234.0h0M758.0 202.2h0M768.0 236.4h0M770.7 246.2h0M805.6 241.0h0M807.8 243.7h0M776.6 223.7h0M752.2 249.1h0M809.3 216.5h0M787.6 239.2h0M821.3 226.6h0M799.1 221.3h0M807.6 244.4h0M780.6 222.7h0M819.0 224.8h0M800.4 225.2h0M759.5 203.8h0M752.0 244.4h0M791.2 217.2h0M751.6 196.1h0M780.1 245.9h0M818.8 230.9h0M768.0 253.5h0M797.3 228.4h0M740.3 192.8h0M786.5 211.1h0M796.2 216.9h0M788.9 226.9h0M819.9 228.1h0M794.6 229.0h0M798.7 234.1h0M748.7 233.5h0M779.2 228.1h0M777.0 217.3h0M747.7 231.6h0M789.1 243.8h0M762.4 212.5h0M777.1 221.0h0M794.9 232.0h0M797.6 217.5h0M743.8 203.1h0M815.3 236.4h0M748.9 221.2h0M809.5 235.3h0M761.8 231.3h0M783.1 227.2h0M746.1 240.5h0M775.4 240.1h0M764.4 208.4h0M750.2 224.4h0M745.2 200.4h0M797.1 247.3h0M740.3 214.6h0M823.0 227.8h0M795.9 214.9h0M745.7 187.9h0M742.4 220.5h0M741.7 192.2h0M751.9 228.8h0M792.6 251.1h0M801.4 244.9h0M766.7 211.8h0M800.7 236.4h0M759.2 216.2h0M783.6 243.5h0M766.0 208.6h0M771.0 233.7h0M778.1 234.0h0M777.9 222.1h0M799.2 242.4h0M762.1 236.8h0M814.5 239.2h0M775.5 224.2h0M750.6 213.2h0M805.1 225.2h0M780.6 252.5h0M769.7 249.5h0M753.4 217.5h0M738.3 202.8h0M776.5 222.8h0M776.5 255.3h0M748.7 190.3h0M743.6 186.3h0M820.1 219.3h0M740.9 212.2h0M768.5 232.5h0M749.2 229.0h0M772.9 233.1h0M782.2 247.2h0M801.5 221.7h0M766.9 202.9h0M760.3 198.6h0M757.5 252.1h0M779.1 247.5h0M755.0 226.4h0M750.2 218.2h0M757.2 206.3h0M806.1 221.5h0M813.6 229.3h0M741.9 213.8h0M745.9 197.7h0M769.0 224.7h0M758.9 225.3h0M757.7 241.4h0M760.8 199.7h0M814.0 216.3h0M796.0 219.2h0M824.9 230.5h0M740.0 201.9h0M753.7 195.9h0M785.6 233.9h0M805.2 232.1h0M815.7 220.7h0M758.1 222.2h0M750.4 220.9h0M761.2 204.3h0M747.4 245.2h0M778.4 216.8h0M802.5 226.0h0M761.6 229.3h0M807.8 234.5h0M783.1 236.7h0M749.3 246.4h0M754.4 239.8h0M757.2 242.3h0M747.9 232.9h0M756.8 245.6h0M776.6 226.1h0M781.7 243.4h0M802.7 215.7h0M746.3 237.2h0M749.7 248.6h0M757.3 224.0h0M764.1 200.8h0M762.6 201.1h0M822.7 222.9h0M773.3 222.1h0M774.8 226.8h0M796.1 249.0h0M791.9 217.9h0M744.6 204.3h0M753.5 245.3h0M795.8 229.5h0M813.5 216.2h0M756.1 236.1h0M792.0 222.0h0M765.1 216.9h0M799.3 214.7h0M766.9 229.9h0M805.0 230.0h0M749.3 232.3h0M814.1 241.9h0M768.7 231.3h0M786.2 215.4h0M818.0 222.0h0M749.2 231.0h0M749.0 229.7h0M764.5 236.6h0M813.2 223.8h0M750.2 190.3h0M809.6 219.3h0M769.3 239.2h0M742.0 193.7h0M780.9 248.3h0M746.8 229.7h0M794.3 242.4h0M813.3 222.8h0M743.3 209.5h0M768.2 230.9h0M793.0 219.0h0M770.7 205.0h0M764.8 251.8h0M792.8 245.4h0M816.6 218.8h0M743.3 202.5h0M751.0 215.1h0M779.1 218.9h0M767.9 236.8h0M753.3 237.2h0M774.2 255.0h0M739.0 188.6h0M744.9 228.3h0M816.1 243.1h0M769.6 255.7h0M784.1 226.2h0M777.1 255.9h0M735.2 198.4h0M811.2 231.3h0M795.4 243.6h0M792.6 232.0h0M755.6 195.8h0M798.5 222.1h0M757.8 236.8h0M776.5 225.8h0M759.6 217.7h0M735.0 198.4h0M735.5 200.1h0M797.0 238.0h0M759.5 204.7h0M799.4 243.2h0M781.3 236.3h0M808.4 243.8h0M744.2 221.2h0M754.8 205.0h0M761.3 229.3h0M795.9 240.8h0M773.5 250.6h0M784.7 248.1h0M795.5 248.1h0M767.7 241.9h0M752.3 195.2h0M759.3 248.4h0M773.4 213.6h0M796.9 240.3h0M815.4 221.2h0M771.7 225.3h0M821.4 229.6h0M767.0 231.4h0M775.4 243.0h0M762.6 253.7h0M789.6 239.1h0M753.9 235.9h0M737.4 193.6h0M786.8 225.1h0M805.2 229.8h0M784.9 253.5h0M804.7 237.7h0M750.5 196.0h0M823.2 219.8h0M809.0 245.0h0M794.8 244.8h0M787.7 221.1h0M777.1 307.2h0M779.4 306.3h0M813.1 293.0h0M808.7 299.4h0M793.2 309.3h0M831.5 286.5h0M825.3 299.0h0M782.9 299.6h0M810.2 293.4h0M831.3 288.0h0M786.1 295.7h0M784.4 269.9h0M810.8 296.8h0M823.7 278.3h0M835.6 293.6h0M788.8 312.4h0M796.6 286.3h0M804.5 285.6h0M808.3 294.2h0M798.4 275.6h0M813.3 279.5h0M824.6 279.3h0M808.8 303.2h0M811.3 289.5h0M794.9 284.5h0M811.2 297.1h0M804.8 310.7h0M835.9 294.0h0M799.6 301.3h0M788.0 291.4h0M817.8 287.3h0M810.6 280.5h0M802.3 300.6h0M796.4 293.3h0M830.8 296.4h0M793.9 287.4h0M796.8 301.4h0M820.5 281.3h0M804.9 280.1h0M831.1 284.6h0M792.4 293.0h0M811.5 276.6h0M829.9 293.3h0M835.3 296.6h0M808.4 278.6h0M809.9 280.1h0M788.8 285.0h0M790.7 286.8h0M785.6 288.9h0M831.1 295.9h0M798.6 303.9h0M834.6 279.8h0M779.8 287.7h0M782.1 310.0h0M832.3 280.4h0M837.4 286.8h0M800.1 319.9h0M833.9 281.6h0M796.3 316.1h0M820.2 284.0h0M785.3 299.5h0M792.6 268.9h0M787.5 293.4h0M826.5 295.5h0M788.4 286.2h0M775.2 297.2h0M802.7 313.2h0M826.1 299.8h0M786.0 272.9h0M818.6 281.3h0M789.9 292.7h0M797.1 301.0h0M796.6 307.5h0M819.1 287.7h0M786.6 300.7h0M799.2 301.1h0M809.6 276.9h0M796.1 277.2h0M785.0 307.9h0M831.3 290.4h0M803.5 296.7h0M796.7 285.0h0M829.5 290.3h0M796.6 299.5h0M800.9 277.5h0M836.1 280.6h0M805.0 279.0h0M797.1 287.1h0M822.8 284.5h0M819.9 276.8h0M803.6 305.7h0M798.8 294.9h0M814.6 287.4h0M805.7 281.9h0M826.7 290.3h0M796.5 320.2h0M804.8 310.2h0M792.0 310.3h0M819.2 279.1h0M798.7 316.2h0M786.9 316.8h0M808.2 293.5h0M782.4 293.1h0M781.5 287.3h0M796.0 313.9h0M803.0 315.6h0M797.9 279.0h0M804.8 290.1h0M797.1 297.0h0M805.2 300.6h0M817.0 286.5h0M792.0 300.5h0M835.6 295.3h0M823.3 283.7h0M779.0 310.7h0M797.3 319.7h0M819.4 279.3h0M786.1 296.6h0M781.8 285.9h0M787.6 314.6h0M794.4 309.6h0M788.2 289.9h0M807.5 278.7h0M672.5 240.5h0M698.6 245.1h0M697.3 252.5h0M677.5 228.0h0M706.4 250.0h0M676.1 228.2h0M671.8 241.1h0M674.5 240.1h0M669.3 248.2h0M684.7 246.8h0M708.1 237.2h0M688.0 233.2h0M667.1 239.6h0M672.9 234.4h0M662.2 238.7h0M669.4 232.9h0M701.5 236.2h0M671.4 237.7h0M678.7 226.5h0M678.1 249.7h0M670.1 247.2h0M684.7 249.8h0M668.5 235.8h0M691.7 244.2h0M683.7 251.6h0M691.2 229.6h0M682.6 228.6h0M698.6 251.5h0M694.5 245.1h0M689.7 247.6h0M703.8 228.4h0M707.1 246.2h0M706.9 234.9h0M679.4 254.9h0M690.3 246.9h0M666.9 250.7h0M704.0 232.8h0M681.1 247.6h0M695.1 235.6h0M687.1 246.2h0M688.5 246.6h0M684.6 250.3h0M672.6 240.8h0M685.7 237.8h0M683.7 244.8h0M669.6 233.6h0M695.3 235.2h0M680.9 250.1h0M686.8 239.5h0M675.6 229.6h0M699.1 246.7h0M668.8 244.5h0M706.8 236.9h0M544.1 320.7h0M542.6 320.6h0M543.7 309.6h0M543.0 316.2h0M546.2 313.7h0M549.7 316.0h0M544.0 317.1h0M545.8 317.6h0M544.5 311.4h0M545.5 312.0h0M735.5 596.3h0M709.1 585.3h0M756.6 599.6h0M718.7 594.0h0M739.0 599.7h0M744.3 602.6h0M750.6 595.0h0M761.4 598.2h0M732.8 600.7h0M764.5 601.4h0M762.2 603.4h0M771.5 601.0h0M727.2 597.8h0M755.3 594.7h0M741.0 602.7h0M762.6 602.5h0M767.0 595.9h0M741.5 604.6h0M713.8 588.3h0M751.9 601.2h0M728.2 595.0h0M764.4 601.7h0M762.8 604.1h0M726.5 593.2h0M772.0 592.8h0M727.7 591.4h0M753.8 596.5h0M736.6 593.9h0M753.7 599.2h0M742.7 603.8h0M732.1 599.2h0M725.2 591.1h0M745.3 598.0h0M731.9 593.1h0M704.1 576.6h0M751.5 600.7h0M739.4 599.6h0M711.3 586.7h0M768.8 591.4h0M782.6 585.4h0M711.1 584.7h0M753.8 604.7h0M782.8 583.5h0M776.2 597.2h0M725.4 594.7h0M762.6 599.9h0M768.7 589.9h0M767.6 598.7h0M707.9 576.7h0M770.0 602.2h0M765.5 603.3h0M762.9 593.6h0M742.4 598.9h0M738.2 598.4h0M771.2 588.3h0M743.8 602.3h0M732.8 600.9h0M760.3 590.3h0M743.5 590.3h0M774.1 585.9h0M755.5 603.4h0M756.7 596.7h0M764.1 597.4h0M752.7 593.8h0M702.9 577.6h0M781.6 591.6h0M783.6 589.2h0M768.4 594.1h0M759.2 599.5h0M782.3 591.4h0M734.4 594.0h0M761.0 593.7h0M739.7 591.0h0M785.1 581.0h0M725.3 589.6h0M734.1 593.1h0M766.0 596.7h0M733.6 596.9h0M721.6 595.2h0M739.5 604.3h0M720.9 595.1h0M761.6 599.9h0M778.8 587.6h0M725.9 594.7h0M761.8 601.3h0M713.6 590.7h0M738.4 596.6h0M731.7 600.2h0M768.6 589.4h0M733.3 591.4h0M737.0 602.5h0M757.3 602.8h0M771.3 587.6h0M763.9 596.0h0M701.9 577.4h0M767.9 590.1h0M743.3 597.3h0M760.9 604.1h0M767.3 587.2h0M764.9 590.7h0M763.5 604.0h0M745.1 551.1h0M746.0 552.4h0M751.3 557.0h0M737.6 553.8h0M737.1 536.8h0M744.1 539.1h0M746.8 544.4h0M739.5 549.9h0M733.7 562.1h0M732.6 556.1h0M745.0 555.9h0M743.2 549.1h0M748.4 546.1h0M740.7 537.7h0M741.9 537.0h0M748.2 549.0h0M755.1 553.3h0M749.1 557.0h0M750.7 559.3h0M733.2 554.4h0M743.1 539.8h0M742.1 542.1h0M735.4 536.1h0M741.3 557.7h0M734.1 555.9h0M1054.2 649.6h0M1010.5 708.6h0M1021.8 633.3h0M977.1 738.6h0M962.3 684.8h0M1004.2 683.4h0M954.0 757.9h0M980.9 687.6h0M1001.6 644.0h0M1040.4 688.5h0M1023.6 630.4h0M1023.6 732.2h0M1018.9 702.5h0M950.0 677.1h0M1019.4 660.8h0M1017.7 641.9h0M970.9 665.9h0M992.0 718.3h0M959.0 753.2h0M1004.0 672.4h0M945.7 756.3h0M964.6 643.2h0M1010.5 639.3h0M976.9 720.5h0M960.7 760.6h0M1034.0 705.6h0M998.1 748.8h0M982.2 750.1h0M1040.0 651.9h0M911.9 774.4h0M966.9 676.1h0M929.6 754.2h0M941.9 748.4h0M1009.5 767.4h0M968.6 683.4h0M983.9 656.8h0M978.8 745.1h0M1036.7 687.8h0M971.0 700.3h0M1033.7 632.7h0M1034.3 641.6h0M962.3 747.8h0M962.5 706.5h0M962.9 763.9h0M1020.7 646.5h0M1028.1 638.1h0M1033.7 675.1h0M1032.8 722.2h0M945.3 752.9h0M1040.2 647.0h0M984.0 643.6h0M987.3 671.8h0M984.4 737.4h0M1036.0 671.7h0M1025.9 635.5h0M957.9 732.3h0M939.6 738.7h0M1040.2 654.5h0M990.6 638.6h0M957.6 668.2h0M966.8 671.3h0M1019.2 663.1h0M1033.8 679.5h0M984.4 734.9h0M948.0 756.9h0M955.3 683.8h0M1022.6 648.2h0M952.2 725.3h0M1023.5 701.6h0M943.3 727.0h0M966.7 750.3h0M965.5 693.8h0M927.7 730.6h0M1017.5 662.7h0M1022.8 722.3h0M1028.9 705.7h0M959.6 732.7h0M982.7 645.1h0M948.8 761.1h0M958.2 702.7h0M974.1 673.1h0M1012.6 695.2h0M984.0 636.9h0M1041.0 701.7h0M1017.0 683.7h0M976.6 672.2h0M1009.1 667.6h0M952.7 723.3h0M1008.4 631.3h0M997.4 706.8h0M1006.6 679.3h0M966.3 699.4h0M941.3 697.4h0M995.0 750.4h0M1011.4 690.7h0M948.2 751.2h0M939.9 684.2h0M958.6 650.4h0M970.5 715.1h0M977.2 733.3h0M981.9 693.7h0M1031.8 658.0h0M1051.4 657.6h0M960.2 778.0h0M1024.3 723.8h0M954.4 667.4h0M941.8 686.9h0M970.1 641.6h0M947.1 764.8h0M970.3 657.7h0M998.2 733.7h0M999.8 749.3h0M958.8 742.4h0M975.3 760.7h0M988.8 650.2h0M940.9 772.4h0M983.5 756.1h0M993.6 733.2h0M986.6 670.8h0M1015.0 702.6h0M1038.9 676.8h0M1025.0 686.1h0M1013.7 644.6h0M1017.1 694.1h0M1045.8 656.3h0M987.3 654.5h0M975.8 662.0h0M936.4 752.5h0M924.9 731.1h0M984.4 705.8h0M941.4 726.2h0M975.0 644.4h0M1006.0 622.5h0M987.9 716.8h0M971.9 671.4h0M1014.5 761.0h0M983.3 748.0h0M933.6 736.8h0M957.1 726.3h0M1015.5 629.9h0M978.8 704.0h0M970.1 656.2h0M963.2 734.1h0M983.4 721.9h0M958.3 742.6h0M998.8 655.2h0M958.5 744.7h0M1045.2 653.4h0M1031.0 680.8h0M999.5 684.6h0M950.6 756.0h0M1016.9 679.0h0M1016.9 759.3h0M963.6 718.3h0M1017.3 637.5h0M953.6 753.0h0M1016.9 696.8h0M1028.4 731.0h0M1028.3 651.3h0M959.4 723.5h0M1041.9 708.0h0M990.2 639.2h0M944.4 673.3h0M981.8 767.9h0M1012.4 644.5h0M1009.5 745.2h0M941.7 715.2h0M1033.9 688.2h0M1013.0 661.5h0M1023.0 686.6h0M1027.9 656.9h0M1006.3 714.2h0M1033.2 663.3h0M988.4 650.7h0M974.7 632.6h0M989.3 673.8h0M993.2 626.3h0M932.6 727.8h0M993.7 630.5h0M1017.4 662.2h0M1011.5 736.6h0M1033.4 718.6h0M1010.4 752.7h0M958.4 755.0h0M1043.9 655.6h0M1029.1 712.7h0M1004.6 683.3h0M946.1 768.9h0M961.1 697.9h0M984.2 646.7h0M1023.6 720.1h0M1019.5 729.4h0M1004.3 748.0h0M1005.1 668.0h0M1012.9 651.2h0M988.3 763.5h0M1036.2 677.1h0M968.5 656.6h0M997.6 631.8h0M1033.0 644.4h0M1023.6 729.1h0M1054.2 650.1h0M1000.3 667.3h0M1008.6 690.3h0M971.4 707.2h0M1004.1 755.1h0M996.8 677.3h0M1045.8 653.1h0M972.2 666.7h0M985.6 697.6h0M968.3 745.0h0M973.4 655.7h0M1024.2 650.9h0M998.7 724.8h0M1021.3 721.7h0M1013.3 738.5h0M974.2 639.2h0M983.9 679.1h0M1005.8 692.6h0M980.5 762.5h0M938.0 743.1h0M954.3 738.5h0M988.7 650.3h0M1041.9 684.2h0M963.1 662.6h0M1031.8 705.2h0M1048.5 651.4h0M1007.5 733.7h0M1016.0 628.9h0M958.7 689.7h0M985.5 678.5h0M1009.1 678.1h0M953.2 714.2h0M1017.3 636.1h0M1023.4 660.6h0M946.4 701.5h0M958.7 767.7h0M915.7 767.8h0M1032.7 706.7h0M944.7 719.0h0M938.0 729.0h0M1003.3 724.7h0M975.8 745.4h0M974.9 773.2h0M1034.6 642.4h0M953.2 775.5h0M1001.4 623.7h0M1012.4 668.9h0M927.3 769.1h0M1013.3 665.3h0M985.3 688.9h0M966.4 661.4h0M1006.9 723.0h0M976.8 635.4h0M1008.2 711.1h0M963.9 716.9h0M1040.7 665.3h0M936.4 752.6h0M958.9 683.9h0M931.7 759.2h0M1002.5 680.1h0M977.7 678.6h0M926.2 780.2h0M989.2 727.9h0M949.0 711.0h0M1017.9 629.1h0M948.0 765.2h0M1007.9 746.4h0M985.9 701.2h0M1029.2 655.2h0M956.8 737.3h0M980.3 748.2h0M972.0 711.6h0M1006.6 718.3h0M971.8 743.0h0M975.3 723.3h0M1043.4 648.6h0M1013.0 675.0h0M956.4 654.6h0M1026.4 720.3h0M1017.8 638.3h0M1033.3 724.7h0M946.1 711.9h0M985.9 696.1h0M963.8 762.3h0M1005.7 756.2h0M1001.2 632.1h0M984.7 664.2h0M1013.6 631.3h0M998.5 624.3h0M963.8 658.6h0M954.7 673.5h0M1010.1 725.7h0M952.2 766.4h0M993.8 635.2h0M980.8 664.4h0M960.6 768.2h0M995.6 699.0h0M1011.8 689.3h0M1001.5 677.4h0M992.4 627.0h0M1027.1 711.5h0M936.7 734.9h0M964.5 709.1h0M1024.6 672.6h0M1042.9 646.1h0M1011.6 659.2h0M1034.1 669.3h0M954.0 731.9h0M1005.3 675.9h0M938.7 751.9h0M984.9 654.6h0M1039.4 686.9h0M1043.8 657.8h0M984.4 748.9h0M945.4 762.5h0M1032.6 747.6h0M962.5 689.8h0M944.7 714.9h0M987.4 735.4h0M1012.0 624.7h0M950.4 747.7h0M965.8 757.9h0M953.7 771.1h0M1027.9 683.8h0M988.2 722.6h0M1017.3 674.3h0M996.7 760.5h0M1001.0 654.4h0M971.9 749.4h0M995.9 750.1h0M994.9 699.5h0M980.7 681.0h0M1029.2 727.5h0M962.4 652.5h0M1035.4 672.4h0M972.9 714.3h0M973.8 661.4h0M942.7 734.4h0M1050.4 661.8h0M995.4 772.9h0M976.7 702.6h0M956.4 760.1h0M993.8 626.2h0M967.3 694.1h0M1038.1 659.7h0M943.8 705.3h0M1042.8 667.2h0M1014.4 708.9h0M971.6 641.7h0M933.9 684.4h0M1016.9 645.8h0M1004.7 746.4h0M1008.6 746.6h0M1020.5 672.1h0M997.6 728.0h0M997.2 734.8h0M958.2 715.1h0M996.8 768.6h0M933.7 779.5h0M967.1 723.4h0M938.3 726.1h0M1001.0 759.8h0M975.0 763.4h0M1005.7 657.2h0M1034.7 648.6h0M925.1 774.2h0M987.7 740.3h0M997.2 770.3h0M983.4 758.5h0M1030.8 749.7h0M956.0 763.3h0M953.4 720.7h0M1005.2 766.9h0M980.2 709.0h0M996.4 746.2h0M965.7 657.7h0M980.3 705.0h0M1004.9 623.1h0M968.6 681.2h0M919.5 777.2h0M1023.1 683.5h0M1002.3 646.2h0M1008.0 658.1h0M987.1 741.8h0M947.7 725.1h0M1019.2 723.8h0M1042.2 658.0h0M1041.5 675.5h0M1015.9 734.3h0M949.7 758.5h0M970.1 695.6h0M1023.1 748.0h0M970.2 730.8h0M1016.7 741.0h0M1039.2 677.2h0M987.6 653.7h0M980.8 737.8h0M1024.0 731.6h0M1012.5 707.8h0M1021.0 737.5h0M1004.5 712.7h0M1021.7 721.7h0M962.8 719.2h0M1018.4 767.7h0M1029.1 645.1h0M1006.3 647.8h0M975.1 743.8h0M967.7 655.2h0M966.1 759.6h0M1028.4 655.7h0M988.5 683.2h0M959.7 679.6h0M1050.9 650.1h0M936.9 755.0h0M1051.6 649.8h0M962.5 773.0h0M951.5 689.3h0M1034.2 685.0h0M1008.8 764.0h0M931.6 765.0h0M1000.6 685.8h0M931.6 777.9h0M927.1 766.2h0M956.1 759.7h0M1048.2 651.6h0M1028.7 697.8h0M1029.1 694.3h0M1021.7 685.3h0M956.6 702.7h0M970.9 776.6h0M1019.4 723.0h0M960.4 691.3h0M1008.7 653.4h0M951.8 768.3h0M960.1 652.0h0M966.7 672.5h0M1031.7 706.4h0M1005.7 770.6h0M1022.9 711.2h0M1033.2 704.3h0M949.6 769.2h0M938.1 742.6h0M1042.5 704.3h0M936.5 685.9h0M940.9 680.5h0M1040.6 717.1h0M993.1 756.6h0M1028.2 718.3h0M938.4 772.8h0M962.0 726.6h0M943.9 690.1h0M939.8 742.6h0M957.4 780.3h0M1013.3 691.3h0M992.7 740.4h0M1038.1 642.3h0M941.8 705.0h0M1006.0 730.6h0M1000.2 707.9h0M950.2 775.8h0M951.0 734.7h0M959.4 710.6h0M1045.5 697.2h0M961.1 647.5h0M1001.8 645.9h0M1005.8 656.5h0M960.7 730.7h0M1004.1 686.6h0M1022.3 651.0h0M989.8 755.9h0M1006.2 677.0h0M975.8 640.0h0M1019.3 671.3h0M945.9 730.6h0M949.4 734.9h0M940.0 739.4h0M977.9 630.6h0M1002.3 673.4h0M986.2 695.0h0M959.3 652.3h0M941.0 733.2h0M1008.7 754.7h0M1013.7 657.0h0M962.6 762.6h0M1017.1 734.7h0M949.3 687.9h0M1020.7 742.3h0M970.4 657.9h0M1019.4 730.5h0M929.9 760.0h0M1033.5 731.9h0M951.3 687.8h0M976.5 753.2h0M938.0 763.7h0M993.1 768.5h0M956.0 710.5h0M968.2 741.2h0M1035.3 727.6h0M923.9 762.2h0M984.2 690.3h0M936.3 729.5h0M929.6 769.4h0M975.3 772.3h0M975.1 773.7h0M1006.2 634.0h0M985.8 754.6h0M978.4 672.2h0M992.0 634.7h0M1019.8 734.5h0M953.4 716.2h0M940.6 757.1h0M1011.0 661.7h0M1010.7 702.3h0M991.7 733.8h0M1040.5 653.0h0M979.6 766.0h0M967.9 640.8h0M967.0 677.8h0M1038.4 676.6h0M983.9 664.6h0M983.4 638.3h0M936.9 759.4h0M968.3 679.5h0M1016.4 727.1h0M1022.7 648.5h0M1053.8 660.6h0M1006.5 653.8h0M1015.8 686.2h0M938.5 765.4h0M968.4 766.7h0M968.9 760.5h0M1023.0 647.3h0M1024.5 748.5h0M1028.7 747.2h0M1016.7 768.5h0M1023.2 709.5h0M1000.8 685.3h0M1009.6 728.9h0M945.2 673.0h0M987.8 765.4h0M996.7 670.4h0M1025.5 688.9h0M987.8 724.2h0M1007.3 632.6h0M992.7 753.9h0M957.3 657.8h0M948.7 687.8h0M1018.5 762.3h0M978.8 768.2h0M1011.2 661.6h0M998.7 764.3h0M976.4 681.1h0M962.8 656.5h0M1051.7 645.3h0M999.4 676.3h0M991.2 622.8h0M971.9 697.5h0M964.3 735.4h0M965.8 717.0h0M1025.7 677.4h0M980.8 688.8h0M982.1 714.4h0M983.6 708.1h0M1012.5 755.5h0M1030.1 704.3h0M967.7 698.7h0M1011.3 761.5h0M970.8 662.7h0M981.0 771.3h0M1004.9 680.4h0M1048.2 656.3h0M940.1 764.7h0M1024.6 723.6h0M960.6 746.9h0M1041.2 650.5h0M1039.5 683.7h0M1004.0 685.4h0M990.4 681.5h0M974.6 750.0h0M986.9 757.5h0M1015.0 683.0h0M957.1 753.7h0M1018.6 708.3h0M938.9 714.3h0M965.9 709.6h0M900.0 693.9h0M911.1 715.3h0M907.6 697.2h0M909.7 713.0h0M906.0 696.6h0M895.2 704.0h0M903.9 693.0h0M902.2 698.7h0M900.0 711.1h0M896.6 701.0h0M910.8 713.3h0M913.2 706.7h0M900.4 710.5h0M911.0 715.4h0M899.8 709.7h0M901.6 710.4h0M910.3 712.7h0M908.3 703.6h0M900.2 711.1h0M907.1 695.8h0M323.6 813.8h0M429.8 835.0h0M301.3 812.6h0M341.4 758.1h0M352.2 819.7h0M376.8 834.6h0M422.5 848.3h0M363.6 846.9h0M319.7 848.6h0M361.4 779.6h0M383.7 840.4h0M386.3 804.1h0M308.4 857.9h0M304.6 842.7h0M392.9 834.7h0M372.3 792.0h0M331.7 806.8h0M332.8 828.5h0M366.9 745.3h0M322.9 786.4h0M388.4 773.3h0M369.7 733.1h0M381.2 841.2h0M393.1 850.9h0M351.8 835.6h0M315.0 849.9h0M346.7 764.5h0M387.3 789.3h0M325.8 818.2h0M332.5 727.0h0M321.8 788.2h0M299.2 839.3h0M349.1 782.8h0M348.8 733.1h0M338.0 749.3h0M351.5 731.1h0M396.8 811.1h0M439.2 863.0h0M397.1 805.2h0M385.1 842.9h0M356.8 792.4h0M324.7 762.9h0M322.0 853.3h0M338.5 775.8h0M352.4 787.9h0M371.9 785.4h0M308.7 808.7h0M459.7 861.1h0M380.4 803.5h0M347.9 838.1h0M336.1 767.4h0M392.5 801.2h0M296.2 850.9h0M361.1 727.9h0M338.3 837.4h0M313.2 817.7h0M397.0 803.3h0M350.5 842.8h0M319.4 785.6h0M398.2 823.7h0M348.3 739.8h0M353.3 868.6h0M384.0 809.9h0M388.0 770.0h0M356.1 789.3h0M490.4 871.7h0M349.9 787.4h0M353.7 776.1h0M383.9 818.8h0M389.3 821.0h0M345.2 748.5h0M348.3 777.9h0M340.7 757.8h0M385.1 794.1h0M347.4 788.1h0M381.5 783.1h0M307.9 786.0h0M348.9 805.7h0M331.3 858.2h0M304.1 806.5h0M430.7 851.6h0M386.8 781.3h0M370.6 800.3h0M394.3 770.0h0M328.1 785.6h0M465.8 866.6h0M336.5 825.0h0M340.2 788.8h0M325.9 754.0h0M296.0 837.0h0M355.7 756.1h0M350.6 742.4h0M334.6 760.0h0M353.1 791.3h0M382.3 779.2h0M341.1 822.4h0M347.1 826.0h0M417.5 830.1h0M345.1 815.5h0M472.1 856.6h0M374.6 758.7h0M333.1 798.0h0M507.8 883.8h0M368.0 774.5h0M335.0 825.0h0M367.4 817.5h0M333.2 796.3h0M377.6 788.0h0M457.9 842.3h0M388.5 824.7h0M436.5 854.9h0M314.5 846.3h0M361.0 731.3h0M432.7 857.1h0M325.2 777.1h0M313.0 782.7h0M475.3 869.2h0M363.1 776.2h0M367.8 767.7h0M347.3 767.6h0M319.5 846.1h0M296.6 819.9h0M307.7 837.5h0M344.2 835.3h0M419.9 849.9h0M381.3 765.8h0M383.8 743.4h0M310.4 809.7h0M334.0 770.3h0M375.4 781.1h0M321.0 843.9h0M484.1 867.7h0M382.4 774.9h0M303.0 803.9h0M435.3 852.4h0M332.8 745.6h0M322.3 847.1h0M342.8 814.0h0M350.3 814.1h0M349.2 831.1h0M371.5 813.6h0M348.3 721.2h0M379.5 778.7h0M340.5 843.2h0M345.6 784.6h0M457.1 870.5h0M340.9 801.2h0M341.4 840.1h0M370.2 765.3h0M362.0 793.6h0M351.1 834.0h0M336.4 857.3h0M336.5 747.0h0M383.7 854.2h0M365.8 867.2h0M396.6 787.7h0M445.6 871.2h0M425.7 852.0h0M409.5 815.6h0M408.4 831.9h0M295.6 824.2h0M293.7 832.6h0M349.8 734.6h0M305.6 818.1h0M351.9 801.7h0M473.2 862.7h0M464.9 848.8h0M376.5 802.1h0M363.4 789.7h0M378.3 777.8h0M330.3 773.3h0M322.3 783.5h0M351.3 737.9h0M372.3 805.7h0M386.0 827.4h0M325.6 785.5h0M344.7 719.4h0M397.1 775.5h0M354.4 826.4h0M422.1 824.3h0M361.4 830.2h0M357.4 814.6h0M339.9 721.1h0M361.8 843.7h0M353.6 732.3h0M358.0 773.2h0M320.2 836.5h0M405.5 841.7h0M359.3 819.3h0M330.0 732.4h0M361.4 807.9h0M421.1 851.8h0M450.7 865.6h0M311.9 825.5h0M460.8 864.8h0M408.7 836.3h0M338.7 796.8h0M435.0 849.3h0M371.5 767.9h0M318.2 771.1h0M412.8 845.4h0M362.1 817.7h0M298.2 812.6h0M316.9 816.7h0M339.6 790.7h0M322.0 778.4h0M348.7 815.3h0M415.6 853.3h0M345.9 828.4h0M450.6 846.5h0M464.2 870.8h0M332.3 809.5h0M361.2 824.2h0M357.7 747.5h0M329.0 778.7h0M344.3 849.1h0M345.6 769.4h0M494.9 876.4h0M400.9 805.5h0M452.0 847.6h0M405.8 817.9h0M368.2 737.6h0M353.2 817.8h0M345.8 860.1h0M307.3 814.1h0M371.1 850.5h0M336.2 778.9h0M419.2 849.0h0M447.4 848.2h0M364.0 782.6h0M310.9 827.2h0M351.4 797.7h0M363.8 756.2h0M373.6 735.6h0M349.5 732.4h0M347.8 819.2h0M296.4 833.2h0M478.1 866.8h0M373.4 826.2h0M335.8 823.9h0M339.0 759.0h0M413.2 813.9h0M398.4 798.5h0M371.3 754.7h0M368.9 781.4h0M426.8 852.5h0M347.2 847.0h0M365.5 850.1h0M389.6 734.6h0M301.4 828.3h0M440.5 863.2h0M335.9 784.3h0M368.8 821.4h0M311.1 793.7h0M362.0 803.1h0M362.8 773.5h0M354.4 810.6h0M387.1 800.7h0M324.2 853.5h0M336.6 841.8h0M379.6 833.0h0M339.6 728.0h0M349.4 820.4h0M384.7 816.7h0M385.9 780.8h0M425.8 857.8h0M386.6 864.1h0M344.2 800.1h0M321.2 788.7h0M340.6 718.8h0M398.2 764.8h0M335.9 785.8h0M373.8 778.8h0M366.0 769.1h0M353.0 748.5h0M352.7 721.6h0M420.4 853.3h0M493.8 869.3h0M365.7 853.9h0M315.6 832.9h0M304.9 851.8h0M373.7 838.0h0M326.2 834.5h0M421.0 826.5h0M355.4 850.2h0M351.1 731.5h0M359.2 867.5h0M370.2 817.8h0M361.4 825.3h0M318.3 813.3h0M293.2 824.1h0M404.3 850.2h0M351.4 808.1h0M306.3 831.1h0M323.9 843.8h0M309.2 825.9h0M343.1 777.0h0M297.6 817.7h0M350.8 763.7h0M366.7 790.7h0M440.9 856.2h0M367.6 837.8h0M363.4 856.6h0M371.6 778.3h0M395.2 796.5h0M312.0 787.1h0M397.7 796.6h0M360.6 739.8h0M311.2 820.9h0M448.0 856.5h0M333.9 861.9h0M410.4 839.8h0M318.5 862.3h0M332.2 733.3h0M499.3 886.3h0M345.2 724.6h0M329.6 816.4h0M396.1 839.9h0M385.0 838.8h0M376.0 755.0h0M467.6 863.1h0M356.7 789.7h0M353.9 754.4h0M351.1 722.9h0M464.3 859.6h0M353.0 754.1h0M340.0 826.6h0M489.8 877.6h0M312.9 838.4h0M366.7 863.5h0M346.6 721.9h0M321.6 785.4h0M389.1 826.7h0M396.1 783.5h0M457.0 844.1h0M408.3 812.1h0M325.6 814.3h0M387.8 863.7h0M367.8 746.2h0M335.8 774.1h0M509.3 876.3h0M359.0 814.3h0M375.8 838.4h0M363.4 799.7h0M360.7 722.5h0M398.4 800.4h0M469.2 852.8h0M332.1 785.1h0M342.1 772.3h0M317.5 806.8h0M386.1 730.8h0M308.3 784.2h0M389.2 808.4h0M390.3 776.3h0M332.1 738.0h0M338.3 722.3h0M364.1 805.4h0M430.0 852.3h0M394.0 770.0h0M336.9 759.5h0M373.3 869.7h0M373.4 746.3h0M502.9 877.8h0M412.9 831.5h0M340.1 788.6h0M356.8 757.7h0M326.7 736.5h0M389.3 796.5h0M362.0 790.0h0M466.6 856.0h0M377.2 870.9h0M339.9 857.8h0M410.7 840.8h0M325.5 772.8h0M471.7 854.8h0M325.8 782.1h0M317.8 814.8h0M404.0 841.6h0M426.4 820.5h0M355.4 846.9h0M332.1 812.9h0M376.3 763.6h0M377.7 766.0h0M452.9 858.9h0M316.8 791.9h0M346.7 837.3h0M342.1 756.9h0M357.3 791.8h0M360.7 775.3h0M412.3 828.9h0M351.9 729.6h0M382.5 846.2h0M358.8 800.3h0M431.5 831.4h0M309.8 819.3h0M418.8 853.6h0M375.4 847.3h0M426.2 834.4h0M414.7 823.2h0M327.2 832.4h0M436.4 840.5h0M358.5 772.5h0M366.8 787.7h0M301.4 810.4h0M320.7 783.6h0M366.4 752.1h0M332.1 830.4h0M381.8 854.4h0M369.8 807.7h0M357.6 727.5h0M390.4 806.0h0M364.3 769.6h0M449.6 849.3h0M409.7 813.7h0M351.0 810.7h0M369.7 791.0h0M330.5 842.7h0M335.6 776.3h0M382.8 742.5h0M340.9 743.7h0M356.6 753.6h0M304.5 812.6h0M408.9 831.6h0M302.6 829.9h0M331.4 838.3h0M386.2 793.9h0M351.2 767.7h0M338.8 727.5h0M327.1 811.6h0M366.6 745.9h0M335.6 762.4h0M327.5 746.9h0M320.6 855.4h0M369.3 846.7h0M400.2 841.5h0M304.7 847.2h0M419.4 839.5h0M388.3 802.4h0M349.7 748.4h0M329.1 840.3h0M500.3 882.1h0M352.0 807.6h0M375.4 779.1h0M368.6 802.8h0M390.5 824.0h0M355.9 749.5h0M323.0 800.5h0M372.7 814.1h0M389.0 857.8h0M446.7 851.2h0M385.4 811.4h0M430.0 837.5h0M345.9 747.1h0M384.4 787.3h0M380.5 836.8h0M372.8 742.0h0M473.0 854.1h0M369.3 728.4h0M352.7 845.1h0M353.3 818.0h0M309.2 841.2h0M303.2 846.2h0M340.7 805.4h0M344.0 759.5h0M356.1 841.2h0M342.2 822.9h0M378.6 769.0h0M325.9 779.5h0M320.7 852.8h0M383.9 735.2h0M484.4 879.8h0M362.8 845.3h0M359.2 806.0h0M367.1 822.7h0M393.1 842.4h0M370.7 835.2h0M433.5 848.9h0M369.5 737.3h0M374.4 737.5h0M345.1 761.3h0M457.6 855.4h0M437.7 843.3h0M376.6 848.0h0M441.8 862.5h0M339.8 830.5h0M362.9 788.9h0M343.6 806.8h0M356.7 827.7h0M339.2 759.7h0M455.9 853.8h0M361.5 737.2h0M369.8 805.8h0M346.5 760.8h0M345.0 840.4h0M320.6 821.7h0M345.7 818.9h0M346.4 758.3h0M365.1 853.2h0M343.0 833.7h0M381.7 768.5h0M363.7 787.0h0M503.8 876.0h0M390.1 843.2h0M335.6 771.7h0M369.0 787.6h0M333.7 729.7h0M427.7 850.2h0M344.1 793.2h0M445.9 848.7h0M444.6 842.7h0M426.8 836.7h0M368.8 744.4h0M331.0 858.3h0M376.7 856.9h0M387.7 769.3h0M396.7 800.6h0M348.2 738.4h0M321.0 827.6h0M321.3 771.5h0M373.6 755.6h0M394.3 775.4h0M361.0 766.2h0M320.6 820.0h0M377.9 800.5h0M493.3 871.1h0M333.6 785.9h0M424.2 827.8h0M467.1 856.9h0M420.5 844.7h0M370.7 727.5h0M317.5 827.3h0M370.4 818.8h0M319.4 833.9h0M393.9 839.6h0M343.0 793.9h0M378.0 864.3h0M414.8 823.6h0M370.2 822.8h0M319.3 787.9h0M338.8 775.8h0M403.1 809.6h0M316.6 839.5h0M349.9 778.1h0M441.6 866.0h0M387.3 807.3h0M385.2 825.9h0M435.3 837.4h0M376.8 826.2h0M330.7 751.5h0M398.3 787.8h0M393.2 787.5h0M345.3 761.1h0M379.3 769.6h0M434.8 839.6h0M335.2 833.3h0M441.2 846.8h0M375.1 768.8h0M377.6 780.9h0M380.2 855.9h0M366.5 820.8h0M372.7 828.0h0M339.4 819.4h0M321.6 847.8h0M406.6 814.0h0M370.5 727.4h0M426.5 858.1h0M339.6 803.5h0M345.2 803.4h0M354.7 733.4h0M311.2 841.6h0M444.8 852.4h0M430.0 841.5h0M339.3 841.1h0M367.2 817.3h0M380.1 867.4h0M380.4 812.5h0M376.8 840.4h0M449.0 871.3h0M385.2 872.4h0M320.1 852.4h0M312.1 786.6h0M341.3 721.4h0M418.1 850.3h0M480.5 863.0h0M388.2 851.2h0M381.7 837.2h0M302.6 809.1h0M380.0 757.4h0M349.9 720.9h0M373.6 827.3h0M358.5 742.6h0M359.5 758.7h0M364.7 827.7h0M392.6 809.3h0M379.0 869.8h0M324.1 803.9h0M335.4 767.1h0M393.2 806.7h0M374.9 839.6h0M377.0 774.9h0M331.7 828.2h0M343.5 789.6h0M357.3 785.4h0M481.9 877.7h0M344.1 797.4h0M331.3 761.8h0M342.8 728.1h0M326.6 822.5h0M405.9 827.5h0M299.0 850.0h0M319.9 800.3h0M462.5 845.8h0M373.2 770.7h0M336.4 838.8h0M305.3 812.5h0M378.3 746.3h0M373.4 872.6h0M381.4 859.2h0M305.8 851.8h0M340.0 810.5h0M296.2 830.8h0M336.8 816.7h0M408.9 832.2h0M298.8 825.6h0M352.9 743.4h0M330.3 802.9h0M389.6 783.3h0M340.1 746.3h0M317.0 827.0h0M324.0 780.5h0M329.0 829.5h0M366.7 845.9h0M396.5 777.9h0M365.7 827.5h0M393.5 865.0h0M309.5 842.7h0M377.0 872.8h0M377.2 860.0h0M380.9 852.1h0M333.3 731.5h0M383.4 745.7h0M384.7 861.7h0M412.3 828.4h0M371.0 820.5h0M365.2 864.8h0M347.6 756.7h0M349.3 791.0h0M303.4 840.7h0M494.5 877.2h0M316.9 847.4h0M387.9 734.0h0M330.6 758.2h0M395.4 781.4h0M366.5 778.5h0M382.0 746.9h0M340.2 772.2h0M341.7 845.3h0M363.3 834.2h0M304.8 825.5h0M389.1 799.8h0M451.8 849.4h0M337.3 766.2h0M449.6 858.9h0M336.7 796.4h0M338.5 829.8h0M389.8 774.5h0M316.8 809.7h0M364.2 865.8h0M333.2 780.9h0M378.7 796.3h0M404.1 828.5h0M403.2 829.7h0M380.3 782.2h0M335.7 836.9h0M375.3 803.8h0M386.0 871.0h0M303.2 838.7h0M388.6 737.1h0M395.9 789.7h0M351.8 840.4h0M302.5 818.3h0M322.8 853.6h0M349.8 801.6h0M313.9 857.2h0M346.0 866.3h0M368.4 759.7h0M507.7 872.8h0M413.8 842.0h0M354.9 744.8h0M378.1 758.8h0M376.6 813.8h0M301.9 834.8h0M359.5 826.6h0M345.5 742.0h0M330.5 842.7h0M379.8 790.2h0M330.6 748.0h0M421.3 847.9h0M327.1 818.1h0M346.4 854.7h0M416.4 854.3h0M356.2 738.1h0M369.4 808.9h0M376.1 752.6h0M492.3 878.3h0M406.8 823.5h0M357.9 725.9h0M388.4 848.9h0M431.0 855.2h0M340.8 827.8h0M459.6 845.5h0M379.7 828.2h0M426.7 843.6h0M346.2 846.3h0M405.4 820.7h0M371.6 828.0h0M379.0 757.1h0M350.1 851.3h0M396.4 788.1h0M364.0 728.2h0M431.1 849.8h0M309.4 809.2h0M448.6 846.4h0M331.2 808.5h0M365.2 855.1h0M393.6 822.2h0M388.5 734.0h0M324.1 774.5h0M374.5 814.1h0M348.0 861.1h0M366.0 831.5h0M380.2 737.3h0M290.4 835.4h0M473.3 856.4h0M421.9 837.7h0M377.4 825.6h0M337.5 800.0h0M376.4 738.4h0M371.0 803.6h0M371.2 825.8h0M326.3 774.8h0M317.6 791.9h0M388.6 858.6h0M394.0 807.5h0M321.8 816.6h0M309.3 822.1h0M452.5 852.8h0M361.7 809.2h0M311.1 818.5h0M397.9 822.1h0M358.8 789.3h0M459.8 850.5h0M306.7 847.5h0M365.8 809.6h0M335.6 845.5h0M347.2 864.6h0M483.3 874.7h0M360.9 838.5h0M457.0 853.9h0M366.0 770.6h0M391.2 783.0h0M313.8 841.3h0M453.9 860.9h0M326.1 795.0h0M367.7 808.4h0M354.0 810.8h0M357.5 762.8h0M479.5 870.0h0M303.6 850.6h0M329.4 789.8h0M329.8 836.4h0M338.5 838.9h0M335.6 853.9h0M344.6 851.2h0M307.3 819.4h0M356.1 729.2h0M364.4 827.6h0M355.6 783.0h0M440.1 835.5h0M324.6 854.4h0M359.2 765.9h0M329.3 763.6h0M345.0 783.4h0M353.6 764.7h0M335.4 757.2h0M359.9 866.4h0M357.3 817.9h0M497.9 871.9h0M351.5 816.5h0M331.3 742.1h0M497.8 872.8h0M498.1 873.0h0M338.0 863.7h0M320.0 821.4h0M505.9 871.3h0M364.9 786.1h0M324.1 822.9h0M341.8 792.3h0M383.8 871.6h0M462.6 859.8h0M382.6 854.6h0M376.9 752.6h0M380.4 818.3h0M384.2 858.6h0M378.2 808.2h0M388.9 789.3h0M355.1 788.5h0M362.1 784.9h0M348.7 827.3h0M297.4 842.8h0M342.1 840.6h0M334.5 774.4h0M629.0 667.9h0M613.8 700.0h0M633.1 671.5h0M635.9 698.2h0M635.3 691.8h0M606.0 673.2h0M606.6 675.7h0M619.6 661.8h0M610.2 696.4h0M619.4 650.7h0M646.9 694.5h0M626.8 694.8h0M606.9 645.2h0M600.9 672.1h0M628.3 663.0h0M651.4 691.9h0M626.4 668.4h0M604.2 656.8h0M641.4 671.9h0M620.5 663.0h0M607.7 682.2h0M634.9 697.6h0M619.9 657.8h0M618.6 662.1h0M624.0 699.7h0M622.1 664.3h0M623.0 694.1h0M628.6 673.0h0M602.6 669.6h0M611.8 646.3h0M617.1 662.5h0M608.5 681.6h0M617.4 686.6h0M619.4 649.8h0M620.5 696.0h0M610.8 657.3h0M646.4 692.5h0M609.1 659.0h0M596.4 675.1h0M609.4 698.5h0M622.6 686.4h0M621.7 695.4h0M631.4 675.5h0M610.6 649.5h0M655.0 686.8h0M621.5 652.7h0M612.4 699.1h0M607.3 663.0h0M601.6 656.0h0M630.9 662.6h0M652.1 688.8h0M626.9 655.8h0M634.2 682.3h0M654.6 681.5h0M620.8 681.5h0M619.7 685.7h0M627.9 665.2h0M617.9 700.6h0M615.4 669.5h0M615.1 689.5h0M641.7 673.1h0M640.0 674.7h0M595.1 675.5h0M609.6 689.0h0M611.2 676.4h0M609.6 684.3h0M630.7 665.1h0M608.5 696.6h0M613.6 657.4h0M647.8 683.8h0M634.7 695.9h0M655.8 685.6h0M603.0 677.5h0M599.4 655.9h0M658.0 690.2h0M629.3 658.8h0M658.9 686.1h0M601.1 668.4h0M621.8 661.9h0M639.0 678.2h0M628.3 686.0h0M606.6 654.9h0M616.9 678.8h0M643.7 675.1h0M647.2 681.8h0M611.3 704.8h0M640.6 696.5h0M604.9 657.8h0M600.6 656.3h0M657.3 693.8h0M626.0 652.7h0M625.9 692.5h0M623.5 701.2h0M648.6 696.8h0M648.5 685.4h0M635.7 689.2h0M632.6 692.2h0M610.2 686.7h0M614.4 688.5h0M624.3 688.0h0M637.5 679.9h0M635.0 677.5h0M644.5 681.5h0M628.6 701.4h0M614.5 674.9h0M617.4 677.0h0M630.2 705.2h0M616.0 682.0h0M615.2 667.0h0M605.1 680.3h0M636.0 702.9h0M602.1 674.6h0M593.8 682.4h0M634.2 703.7h0M610.0 698.0h0M600.6 649.3h0M597.0 679.9h0M600.6 671.0h0M608.8 656.5h0M643.9 680.3h0M613.6 691.8h0M635.7 692.0h0M616.8 660.8h0M636.3 685.1h0M607.9 657.5h0M627.5 690.7h0M651.4 680.6h0M632.4 665.4h0M619.8 673.0h0M626.6 687.8h0M649.8 692.2h0M618.8 655.1h0M626.5 659.6h0M617.6 668.3h0M649.6 696.6h0M643.9 686.8h0M625.9 695.3h0M612.1 671.7h0M626.0 684.2h0M610.8 713.3h0M633.2 699.1h0M605.7 650.6h0M629.8 691.5h0M615.0 671.6h0M646.0 693.4h0M605.8 649.4h0M619.4 667.6h0M612.8 705.0h0M647.3 679.5h0M638.6 690.1h0M634.3 693.3h0M617.8 673.4h0M620.1 667.9h0M614.1 703.1h0M645.9 688.1h0M632.4 702.0h0M641.1 681.2h0M608.5 683.0h0M618.1 688.3h0M635.0 693.8h0M594.5 679.6h0M629.8 673.9h0M645.3 674.4h0M659.4 708.1h0M661.1 697.9h0M666.9 705.7h0M661.6 702.9h0M675.8 734.5h0M662.2 708.5h0M664.6 706.9h0M676.3 717.4h0M664.2 711.5h0M666.8 716.9h0M666.0 698.5h0M663.9 712.0h0M676.9 717.6h0M672.5 727.3h0M673.2 710.5h0M662.1 706.4h0M661.7 699.6h0M558.9 783.2h0M543.2 771.4h0M572.1 771.1h0M568.4 778.9h0M559.6 776.9h0M555.3 778.3h0M561.9 763.1h0M568.3 782.9h0M556.9 771.1h0M558.2 775.1h0M555.5 782.9h0M567.3 776.1h0M563.0 770.8h0M558.5 782.7h0M558.6 782.0h0M555.3 771.2h0M564.8 782.0h0M563.3 762.8h0M561.8 765.2h0M557.2 777.5h0M566.1 776.3h0M562.8 774.2h0M553.2 765.1h0M569.9 779.9h0M548.0 773.3h0M550.6 768.5h0M570.7 772.8h0M542.1 773.3h0M561.6 774.7h0M561.2 766.8h0M564.3 780.6h0M548.0 774.1h0M559.4 773.0h0M547.2 765.7h0M559.6 765.6h0M563.2 782.1h0M573.1 779.3h0M565.4 773.4h0M542.4 774.0h0M568.3 772.7h0M542.5 768.8h0M553.9 775.8h0M559.5 775.3h0M556.4 778.1h0M548.3 773.0h0M546.7 769.1h0M569.8 776.3h0M563.9 782.1h0M553.9 764.1h0M567.5 781.4h0M555.9 772.0h0M561.3 774.6h0M725.6 831.5h0M714.8 829.3h0M722.4 840.2h0M703.5 841.6h0M725.0 837.8h0M726.1 828.2h0M715.2 851.1h0M706.5 837.1h0M728.3 857.6h0M712.0 837.4h0M707.1 849.3h0M703.1 845.1h0M735.5 850.3h0M723.1 853.7h0M731.4 841.4h0M721.0 825.2h0M716.4 822.7h0M732.5 856.5h0M725.7 845.9h0M701.1 842.2h0M723.9 822.2h0M724.3 839.1h0M713.4 856.9h0M703.7 847.0h0M715.9 855.3h0M719.5 826.0h0M738.0 849.0h0M726.9 824.6h0M734.2 848.9h0M698.3 852.2h0M735.4 841.3h0M720.9 840.2h0M725.0 823.3h0M721.8 842.9h0M714.0 838.7h0M713.9 837.7h0M728.5 855.7h0M711.4 831.1h0M723.1 822.6h0M712.4 841.8h0M731.0 850.6h0M737.5 852.1h0M720.9 831.6h0M702.9 839.6h0M718.4 825.5h0M700.1 843.4h0M732.6 854.1h0M739.7 846.8h0M740.2 843.6h0M710.3 852.5h0M713.9 827.2h0M733.6 850.3h0M730.7 842.6h0M724.9 854.5h0M729.6 840.1h0M730.7 848.1h0M707.9 834.3h0M721.0 851.5h0M712.1 855.8h0M713.5 849.0h0M733.2 843.6h0M708.3 857.4h0M717.1 834.1h0M699.3 845.8h0M740.4 850.5h0M717.9 847.6h0M719.6 849.7h0M734.7 855.7h0M721.3 845.9h0M719.6 824.5h0M699.0 847.9h0M715.9 821.1h0M730.8 839.6h0M718.7 845.2h0M729.2 857.9h0M739.1 845.5h0M710.3 842.3h0M714.5 833.6h0M722.4 849.0h0M704.5 839.8h0M731.1 856.0h0M722.0 828.4h0M717.6 848.4h0M707.4 854.4h0M717.3 833.3h0M702.1 848.5h0M725.5 841.3h0M263.0 534.1h0M282.1 529.6h0M254.1 528.9h0M262.2 537.3h0M269.2 527.1h0M259.8 534.3h0M278.7 529.7h0M273.8 534.2h0M274.0 536.1h0M282.4 530.6h0M260.8 529.5h0M269.6 526.9h0M270.3 526.3h0M262.5 532.9h0M264.1 530.0h0M259.6 526.7h0M258.7 534.3h0M263.6 525.2h0M275.8 533.7h0M259.9 536.6h0M978.4 681.6h0M1036.4 705.7h0M1005.4 710.1h0M989.3 707.5h0M1035.0 660.6h0M964.2 658.0h0M1006.8 656.2h0M984.1 711.4h0M1017.3 701.8h0M968.2 659.4h0M1027.2 722.5h0M1009.4 690.7h0M962.9 684.3h0M1011.4 676.7h0M1041.7 671.7h0M1001.3 667.1h0M1008.9 719.6h0M982.5 700.1h0M967.4 662.3h0M974.1 694.8h0M993.5 709.6h0M988.8 728.7h0M1002.2 644.6h0M1007.7 721.3h0M983.6 719.7h0M1041.1 708.6h0M1016.3 709.3h0M993.0 707.9h0M985.2 686.8h0M967.1 696.4h0M980.0 718.5h0M1016.2 696.0h0M1018.9 686.4h0M994.5 710.2h0M979.5 682.2h0M1042.3 716.3h0M970.5 696.6h0M1034.5 708.3h0M967.8 707.9h0M1013.7 646.6h0M1011.2 672.5h0M996.5 705.2h0M963.0 692.2h0M982.9 665.8h0M994.0 686.3h0M989.4 669.2h0M991.2 692.0h0M991.7 713.8h0M1000.2 652.1h0M1002.1 657.6h0M1043.0 704.0h0M996.8 664.3h0M1021.7 678.8h0M982.8 694.2h0M1008.8 663.6h0M1013.2 670.2h0M961.8 661.1h0M990.6 673.3h0M980.5 696.3h0M1021.5 658.9h0M1015.5 669.3h0M996.8 713.0h0M1002.4 683.4h0M997.6 665.6h0M962.8 672.5h0M979.9 694.5h0M996.8 691.0h0M1017.2 652.7h0M1037.8 649.6h0M971.1 678.0h0M1035.4 660.3h0M1027.3 654.7h0M1025.8 673.6h0M1019.6 663.9h0M994.7 644.6h0M1038.4 677.5h0M987.1 681.2h0M979.4 677.7h0M974.9 713.9h0M993.2 646.5h0M972.3 650.4h0M958.9 670.3h0M1018.4 714.2h0M973.6 704.8h0M998.0 693.3h0M1039.3 676.2h0M997.9 720.5h0M979.0 695.4h0M1031.8 673.1h0M1039.3 684.1h0M998.7 686.7h0M978.3 714.7h0M1004.9 668.3h0M981.7 646.4h0M985.3 672.6h0M1017.9 658.6h0M1009.2 689.9h0M965.2 687.8h0M1030.2 670.9h0M990.7 669.3h0M1006.8 684.0h0M1007.3 703.9h0M1001.0 723.3h0M997.4 695.3h0M1020.9 681.0h0M1023.6 653.4h0M966.3 694.6h0M1023.8 678.1h0M994.6 728.5h0M995.5 718.6h0M996.6 670.0h0M965.1 651.8h0M970.2 705.0h0M985.2 680.8h0M1012.7 693.9h0M1011.6 705.1h0M1025.6 673.8h0M1015.5 651.0h0M1014.2 663.8h0M1037.9 664.3h0M982.7 719.7h0M1000.9 654.1h0M974.0 699.4h0M983.3 715.9h0M1036.4 707.2h0M1031.3 698.1h0M1028.8 712.1h0M1002.1 639.1h0M1005.3 675.3h0M1029.5 686.5h0M980.6 649.8h0M998.0 678.2h0M1039.7 675.6h0M1032.1 665.0h0M972.3 705.2h0M1030.1 697.9h0M964.8 684.1h0M1009.3 690.0h0M1040.9 658.0h0M362.9 811.0h0M392.7 826.8h0M375.5 784.7h0M396.8 802.8h0M372.0 829.9h0M399.0 807.7h0M389.4 803.7h0M400.2 798.0h0M357.3 827.3h0M368.2 833.3h0M391.1 805.6h0M366.6 818.2h0M360.1 795.2h0M380.6 796.5h0M378.1 825.5h0M358.7 822.0h0M396.6 817.3h0M361.0 798.1h0M364.5 830.8h0M405.6 800.8h0M368.5 813.7h0M397.9 812.7h0M393.6 773.8h0M371.0 818.9h0M384.6 788.2h0M404.1 807.5h0M379.7 798.6h0M369.4 799.9h0M400.2 820.7h0M397.6 800.6h0M374.1 823.4h0M403.9 795.3h0M378.8 777.6h0M399.8 803.9h0M400.7 824.4h0M360.6 789.9h0M402.3 801.5h0M390.5 818.6h0M388.8 829.4h0M367.5 780.3h0M363.4 776.6h0M364.4 781.3h0M363.3 782.4h0M389.1 801.7h0M360.0 804.1h0M400.1 810.0h0M402.7 816.8h0M361.3 830.3h0M400.1 807.4h0M392.0 820.9h0M373.3 816.7h0M377.7 820.4h0M357.7 826.3h0M396.1 825.9h0M365.3 828.9h0M363.9 788.0h0M389.2 778.1h0M358.9 783.0h0M402.9 792.8h0M367.1 802.5h0M388.9 774.5h0M395.6 827.6h0M391.6 800.9h0M400.5 818.0h0M388.3 808.3h0M357.2 828.5h0M393.1 816.4h0M397.8 821.2h0M385.7 802.4h0M356.4 784.3h0M362.8 780.0h0M1005.5 723.6h0M1003.5 715.2h0M976.7 705.1h0M1000.2 749.2h0M985.1 721.4h0M1007.9 708.7h0M989.0 724.3h0M1022.7 757.4h0M999.3 711.4h0M978.6 746.0h0M978.4 729.6h0M991.7 741.9h0M1022.3 702.9h0M989.4 742.9h0M985.7 752.1h0M1005.8 758.6h0M980.1 743.4h0M978.9 745.0h0M1013.2 725.6h0M993.4 707.2h0M1006.2 742.8h0M984.3 750.7h0M968.4 727.6h0M991.2 735.8h0M977.3 756.0h0M1001.3 732.5h0M1001.0 732.3h0M998.7 704.9h0M995.4 744.9h0M998.9 717.2h0M1011.9 742.5h0M1003.6 727.8h0M978.0 730.1h0M1020.4 720.1h0M1001.3 752.5h0M979.8 752.6h0M1022.9 712.4h0M984.5 726.0h0M1023.6 746.9h0M974.0 709.6h0M994.1 755.4h0M982.6 700.4h0M981.5 724.3h0M1009.6 732.4h0M982.4 742.1h0M977.1 732.3h0M995.8 702.5h0M1018.3 754.6h0M968.8 714.4h0M1018.9 705.7h0M986.6 752.4h0M974.3 715.1h0M1006.9 757.5h0M982.3 708.6h0M990.3 719.7h0M983.0 733.2h0M972.2 715.3h0M996.0 720.6h0M1000.0 732.0h0M966.0 746.8h0M1006.0 715.5h0M607.5 385.2h0M591.4 386.0h0M611.2 387.0h0M588.3 388.2h0M609.1 391.9h0M589.4 392.9h0M606.0 394.0h0M603.7 391.8h0M598.3 385.7h0M602.1 380.0h0M588.4 387.6h0M598.0 376.2h0M611.2 387.6h0M513.3 445.7h0M467.0 449.6h0M484.5 444.0h0M473.1 450.0h0M471.9 457.0h0M464.3 450.6h0M522.9 457.4h0M476.6 450.6h0M466.0 441.5h0M477.7 444.0h0M498.2 455.3h0M461.0 447.0h0M498.1 454.2h0M514.8 451.8h0M503.7 460.6h0M505.7 448.0h0M481.9 447.7h0M499.6 455.7h0M486.4 444.2h0M486.4 465.1h0M519.5 452.1h0M518.2 468.5h0M504.9 456.0h0M484.8 459.8h0M458.2 455.8h0M520.1 450.8h0M522.3 466.2h0M463.7 453.5h0M504.3 442.4h0M520.5 459.3h0M502.4 467.1h0M506.7 459.1h0M503.3 441.8h0M478.8 457.3h0M559.6 501.7h0M553.6 495.5h0M537.2 475.7h0M545.5 483.1h0M543.3 469.6h0M542.4 470.4h0M551.7 494.4h0M555.8 475.1h0M530.6 480.9h0M551.7 475.6h0M562.6 487.4h0M524.8 488.4h0M528.5 479.5h0M559.9 481.7h0M565.5 486.9h0M539.0 483.4h0M549.5 487.4h0M557.5 475.7h0M535.9 490.5h0M528.5 482.7h0M559.8 482.8h0M532.8 496.3h0M559.2 497.5h0M557.2 499.4h0M535.5 493.6h0M560.4 468.0h0M541.4 498.5h0M541.3 495.4h0M552.8 495.7h0M531.2 497.4h0M542.5 472.3h0M537.6 492.4h0M555.4 481.7h0M556.3 501.7h0M553.9 471.7h0M537.9 493.6h0M559.1 498.1h0M552.9 474.0h0M561.2 468.8h0M558.7 481.6h0M480.8 351.7h0M485.0 350.0h0M488.3 352.5h0M490.8 347.5h0M482.5 354.2h0M486.7 362.5h0M490.0 362.5h0M485.0 360.0h0M480.0 353.3h0M492.5 345.0h0M486.7 355.0h0M490.0 356.7h0M484.2 357.5h0M497.0 375.0h0M502.5 387.5h0M504.2 390.8h0M505.8 394.2h0M507.5 396.7h0M499.2 399.2h0M511.7 405.8h0M505.8 409.7h0M515.0 417.5h0M518.3 415.8h0M521.7 417.5h0M524.2 421.7h0M529.2 425.8h0M531.3 434.2h0M511.7 430.0h0M510.0 433.3h0M513.3 420.0h0M520.0 420.0h0M510.8 426.7h0M405.0 388.3h0M416.7 393.3h0M420.0 394.2h0M423.3 395.0h0M434.2 396.7h0M445.8 394.2h0M445.8 401.7h0M440.0 401.7h0M434.2 404.2h0M425.8 403.3h0M411.7 404.2h0M391.7 393.3h0M390.0 401.7h0M388.3 405.0h0M391.7 408.3h0M384.2 411.7h0M382.5 411.7h0M386.7 413.3h0M391.7 412.5h0M395.0 415.0h0M403.3 416.7h0M409.2 410.0h0M396.7 425.0h0M400.0 423.3h0M406.7 420.8h0M410.8 420.0h0M418.3 414.2h0M424.2 417.5h0M418.3 425.0h0M415.0 430.0h0M395.8 430.8h0M414.2 440.0h0M418.3 443.3h0M430.0 424.2h0M439.2 438.3h0M440.8 445.0h0M408.3 388.3h0M415.0 395.0h0M420.0 396.7h0M426.7 398.3h0M410.0 398.3h0M406.7 403.3h0M402.5 408.3h0M395.0 403.3h0M388.3 410.0h0M393.3 421.7h0M401.7 428.3h0M408.3 425.8h0M413.3 436.7h0M416.7 440.8h0M405.0 438.3h0M410.0 433.3h0M438.3 415.0h0M442.5 412.5h0M446.7 410.8h0M451.7 410.8h0M456.7 413.3h0M460.0 416.7h0M465.0 420.8h0M466.7 423.3h0M470.0 428.3h0M471.7 430.8h0M476.7 432.5h0M480.8 435.0h0M468.3 433.3h0M471.7 426.7h0M462.5 423.3h0M449.2 410.0h0M444.2 413.3h0M454.2 411.7h0M463.3 467.5h0M471.7 466.7h0M485.8 474.2h0M518.3 475.0h0M544.2 439.2h0M550.0 453.3h0M540.0 456.7h0M557.5 450.0h0M566.7 439.2h0M530.0 428.3h0M585.6 405.1h0M584.5 412.2h0M588.5 419.4h0M591.2 397.2h0M601.5 416.2h0M600.7 425.7h0M604.6 429.7h0M595.9 436.0h0M592.0 438.4h0M588.0 445.5h0M584.0 448.7h0M577.7 429.7h0M581.7 428.1h0M585.6 428.9h0M565.8 438.4h0M569.0 442.3h0M570.6 448.7h0M572.2 453.4h0M565.8 455.0h0M557.9 450.2h0M561.1 455.0h0M550.0 453.4h0M557.9 460.5h0M561.1 461.3h0M575.3 462.9h0M583.2 437.6h0M580.9 440.8h0M594.3 437.6h0M599.1 436.0h0M602.2 432.8h0M607.0 431.2h0M611.8 434.4h0M614.9 435.2h0M619.7 429.7h0M624.4 426.5h0M626.0 436.0h0M627.6 442.3h0M632.3 434.4h0M635.5 431.2h0M640.2 431.2h0M591.2 447.1h0M586.4 453.4h0M591.2 453.4h0M600.7 455.0h0M606.2 458.2h0M610.2 455.0h0M611.8 445.5h0M616.5 445.5h0M622.8 447.1h0M624.4 461.3h0M626.0 466.1h0M630.8 455.0h0M635.5 456.6h0M638.7 455.0h0M633.9 462.9h0M637.1 466.1h0M600.7 464.5h0M602.2 469.2h0M597.5 439.2h0M605.4 436.0h0M594.3 442.3h0M608.6 448.7h0M614.9 451.8h0M619.7 458.2h0M581.7 448.7h0M573.8 458.2h0M551.7 513.3h0M555.0 516.7h0M558.3 520.8h0M561.7 525.0h0M565.0 528.3h0M569.2 531.7h0M573.3 535.0h0M577.5 538.3h0M581.7 541.3h0M585.8 544.2h0M590.0 547.5h0M593.3 550.0h0M553.3 515.0h0M556.7 518.3h0M560.0 523.0h0M563.3 526.7h0M567.2 530.0h0M571.3 533.3h0M575.5 536.7h0M579.7 539.8h0M583.8 542.8h0M588.0 545.8h0M591.7 548.7h0M595.3 551.3h0M463.3 467.5h0M471.7 466.7h0M485.8 474.2h0M504.2 480.0h0M516.7 494.2h0M532.5 512.5h0M525.0 528.3h0M508.3 574.2h0M500.8 581.7h0M425.0 552.5h0M426.7 544.2h0M431.7 546.7h0M440.0 545.8h0M445.0 550.8h0M567.5 486.3h0M673.1 185.5h0M673.1 191.8h0M676.2 198.2h0M679.4 201.3h0M683.4 195.8h0M685.8 189.5h0M674.7 206.1h0M677.0 209.2h0M681.8 221.9h0M675.5 225.9h0M671.5 231.4h0M676.2 229.8h0M681.0 228.2h0M687.3 233.0h0M669.9 179.2h0M671.5 174.4h0M698.4 201.3h0M694.5 190.2h0M525.0 237.8h0M533.8 235.4h0M600.2 245.7h0M578.1 248.0h0M572.5 248.0h0M541.7 242.5h0M538.5 245.7h0M601.8 234.6h0M605.0 233.8h0M609.0 235.4h0M612.9 236.2h0M617.7 239.3h0M620.8 240.9h0M626.4 239.3h0M630.3 242.5h0M635.1 243.3h0M639.8 244.1h0M644.6 244.9h0M649.3 245.3h0M654.1 239.3h0M655.7 244.9h0M615.3 237.8h0M623.2 240.1h0M632.7 243.0h0M637.5 243.8h0M642.2 244.4h0M647.0 245.2h0M640.0 244.0h0M646.0 244.0h0M652.0 247.0h0M655.0 239.0h0M658.0 248.0h0M660.0 124.0h0M673.0 208.0h0M677.0 210.0h0M682.0 222.0h0M675.0 226.0h0M686.0 190.0h0M680.0 198.0h0M698.0 202.0h0M710.0 210.0h0M709.0 216.0h0M717.0 236.0h0M724.0 232.0h0M728.0 240.0h0M732.0 238.0h0M739.0 228.0h0M746.0 230.0h0M741.0 239.0h0M750.0 248.0h0M720.0 252.0h0M715.0 260.0h0M710.0 265.0h0M709.6 271.0h0M720.0 270.0h0M726.0 273.0h0M731.0 275.0h0M738.0 274.0h0M744.0 272.0h0M749.0 269.0h0M759.0 274.0h0M767.0 281.0h0M772.0 271.0h0M756.0 255.0h0M759.0 260.0h0M778.0 208.0h0M782.0 210.0h0M788.0 260.0h0M796.0 254.0h0M784.0 264.0h0M816.0 265.0h0M822.4 268.0h0M773.0 292.0h0M778.0 295.0h0M794.0 292.0h0M802.0 298.0h0M811.0 308.0h0M837.0 296.0h0M734.0 210.0h0M711.0 210.0h0M524.0 238.0h0M533.0 235.6h0M543.5 262.0h0M544.4 267.4h0M545.0 301.6h0M536.0 322.0h0M539.0 320.5h0M727.0 539.1h0M727.0 545.5h0M730.2 551.3h0M724.7 557.8h0M731.9 568.8h0M737.2 570.6h0M743.6 568.8h0M747.1 565.3h0M747.3 573.5h0M754.7 571.8h0M756.4 562.4h0M758.8 561.6h0M762.6 573.5h0M771.0 578.2h0M743.4 582.2h0M758.2 583.8h0M725.5 577.0h0M715.0 580.5h0M729.6 588.7h0M746.5 589.2h0M768.1 585.2h0M785.6 565.9h0M786.2 568.8h0M785.0 581.7h0M734.2 561.2h0M736.0 536.2h0M738.3 538.5h0M741.8 542.0h0M918.7 375.1h0M947.7 379.4h0M960.7 379.0h0M967.0 372.1h0M962.0 365.4h0M891.0 427.5h0M893.8 433.4h0M917.2 536.1h0M915.0 539.3h0M912.8 542.6h0M910.7 544.8h0M908.5 548.0h0M905.9 551.2h0M904.2 554.5h0M902.6 557.8h0M900.9 561.0h0M899.4 564.2h0M897.7 567.5h0M895.9 570.8h0M894.4 574.0h0M895.1 577.2h0M895.9 580.5h0M896.1 583.8h0M913.9 538.2h0M911.8 541.5h0M906.8 549.7h0M902.0 559.3h0M898.8 565.3h0M895.5 571.8h0M911.3 553.0h0M914.4 560.1h0M912.4 579.9h0M916.1 537.6h0M909.6 546.3h0M925.9 654.3h0M925.9 704.2h0M922.0 723.7h0M911.7 728.4h0M911.4 733.2h0M922.4 744.3h0M916.7 755.4h0M1061.0 673.8h0M1055.0 698.4h0M1055.4 716.9h0M1043.9 722.4h0M1044.7 711.3h0M1034.4 754.4h0M1009.0 774.4h0M399.2 765.6h0M429.4 820.8h0M412.7 813.5h0M408.5 860.8h0M421.5 860.0h0M414.8 853.8h0M435.6 831.7h0M498.5 887.9h0M474.2 853.8h0M389.8 735.4h0M359.6 722.5h0M634.4 657.9h0M648.7 658.6h0M646.5 706.8h0M631.7 710.5h0M660.0 720.7h0M666.7 696.6h0M599.4 712.2h0M598.0 715.0h0M600.1 717.1h0M595.2 719.2h0M593.8 723.5h0M592.3 727.8h0M590.9 730.6h0M589.5 733.4h0M588.1 736.2h0M586.7 739.1h0M585.2 741.9h0M583.1 744.0h0M580.7 749.3h0M595.9 718.5h0M591.6 729.2h0M587.4 737.7h0M584.5 740.5h0M578.2 766.0h0M595.2 775.9h0M605.1 777.3h0M610.0 783.0h0M611.5 785.1h0M610.0 788.7h0M552.0 791.5h0M551.2 794.3h0M734.2 813.5h0M733.1 819.8h0M744.0 841.7h0M739.4 851.7h0M725.8 820.4h0M746.7 791.2h0M750.8 789.2h0M754.0 792.9h0M748.8 794.4h0M747.7 796.5h0M750.8 791.2h0M796.7 787.1h0M800.8 781.9h0M805.0 777.7h0M808.1 776.7h0M807.1 793.3h0M806.0 789.2h0M807.1 785.0h0M802.9 787.1h0M798.8 782.9h0M607.1 845.4h0M611.2 841.2h0M610.2 848.5h0M613.3 857.9h0M620.6 874.6h0M622.7 878.8h0M624.8 882.9h0M625.8 886.0h0M627.9 889.2h0M630.0 892.3h0M632.1 895.4h0M634.2 898.5h0M636.2 902.7h0M628.5 903.8h0M637.3 909.0h0M635.2 912.1h0M638.3 915.2h0M636.2 918.3h0M626.9 920.4h0M625.8 925.6h0M624.8 920.4h0M650.8 914.2h0M656.0 915.8h0M664.4 918.8h0M667.1 920.4h0M681.5 925.6h0M652.5 912.1h0M698.8 932.9h0M704.0 934.6h0M708.1 934.0h0M713.3 936.0h0M717.5 939.2h0M721.7 937.1h0M725.8 939.2h0M715.4 943.3h0M714.4 948.5h0M717.5 945.4h0M508.7 922.0h0M518.0 969.8h0M519.2 972.2h0M520.3 976.8h0M522.7 979.2h0M519.9 986.2h0M522.7 992.0h0M532.0 992.0h0M534.3 993.2h0M530.8 997.8h0M529.7 1001.3h0M534.3 1001.3h0M522.7 1003.7h0M532.0 1006.0h0M528.5 1009.5h0M525.0 1011.8h0M529.7 1014.2h0M522.7 1014.2h0M518.0 1015.3h0M515.7 1020.0h0M527.3 996.7h0M526.2 1006.0h0M441.0 1041.5h0M656.8 980.3h0M660.3 984.5h0M248.3 497.5h0M236.7 501.7h0M243.3 508.3h0M246.7 508.3h0M231.7 506.7h0M240.8 500.0h0M253.3 493.3h0M258.3 488.3h0M255.0 487.5h0M259.2 492.5h0M215.0 566.7h0M220.0 566.7h0M226.7 568.3h0M236.7 563.3h0M238.3 570.0h0M235.0 574.2h0M220.0 577.5h0M228.3 578.3h0M727.0 719.2h0M730.0 719.0h0M733.0 718.8h0M703.3 577.0h0M706.8 578.2h0M709.2 581.7h0M712.7 585.2h0M716.2 588.7h0M719.7 591.0h0M723.2 593.3h0M726.7 595.7h0M730.2 598.0h0M705.7 575.8h0M711.5 582.8h0M715.0 586.9h0M722.0 592.2h0M733.7 600.3h0M740.7 602.7h0M750.0 603.8h0M759.3 602.7h0M768.7 600.3h0M778.0 595.7h0M782.7 588.7h0M785.0 584.0h0M537.0 247.0h0M540.0 253.0h0M542.0 257.0h0M549.0 250.0h0M554.0 248.0h0M553.0 243.0h0"/>
<path stroke="#aa89e7" d="M168.2 524.5h0M183.1 526.0h0M194.5 527.1h0M202.0 526.7h0M208.3 526.0h0M209.3 511.1h0M212.9 511.8h0M210.0 518.9h0M214.3 516.8h0M222.1 515.3h0M223.5 519.6h0M228.5 515.0h0M237.0 520.3h0M246.9 525.2h0M229.2 529.5h0M241.9 530.2h0M244.0 534.5h0M254.7 530.2h0M260.3 530.2h0M275.2 531.9h0M151.2 543.4h0M190.9 537.7h0M178.9 542.5h0M214.7 540.1h0M235.1 539.4h0M198.3 548.9h0M204.4 546.2h0M220.4 552.9h0M233.1 551.5h0M245.0 548.2h0M152.4 555.4h0M164.4 559.2h0M174.3 557.4h0M493.3 347.5h0M482.5 353.3h0M488.3 352.5h0M492.5 360.0h0M493.3 357.5h0M507.5 402.5h0M515.3 423.8h0M511.7 436.7h0M398.3 385.8h0M400.8 389.2h0M410.0 392.5h0M413.3 392.5h0M431.7 401.7h0M420.0 402.8h0M405.0 397.5h0M400.0 400.0h0M401.7 403.3h0M394.2 396.7h0M394.2 398.3h0M397.5 407.5h0M397.5 410.0h0M384.5 416.3h0M388.3 422.5h0M394.2 419.2h0M420.0 418.3h0M403.3 430.8h0M405.8 435.0h0M411.7 435.0h0M455.0 448.3h0M458.3 446.3h0M463.3 449.2h0M469.7 449.2h0M474.2 454.2h0M488.0 455.8h0M495.0 459.2h0M495.8 464.2h0M500.8 453.0h0M508.3 456.7h0M510.8 451.3h0M520.0 451.3h0M525.3 457.5h0M515.3 465.8h0M515.8 467.5h0M528.7 471.3h0M543.3 470.8h0M558.3 468.0h0M566.3 470.0h0M491.7 478.3h0M525.0 479.2h0M535.0 480.0h0M610.5 393.2h0M602.7 400.4h0M596.4 407.5h0M618.6 409.9h0M631.5 424.1h0M575.3 439.2h0M633.9 440.0h0M620.1 454.7h0M586.4 461.0h0M607.5 462.6h0M613.3 464.2h0M620.0 468.0h0M558.7 468.5h0M566.3 470.4h0M592.4 468.5h0M595.6 472.4h0M657.4 438.9h0M681.9 449.0h0M690.4 448.2h0M683.5 458.2h0M701.5 463.7h0M715.9 454.7h0M723.4 460.5h0M558.3 512.5h0M582.0 540.8h0M495.8 464.2h0M515.3 466.7h0M528.3 471.3h0M543.3 471.3h0M558.3 468.3h0M566.2 470.3h0M592.2 468.0h0M595.5 472.0h0M586.3 461.3h0M607.2 462.5h0M491.2 479.2h0M525.0 480.5h0M535.0 480.8h0M543.3 482.5h0M533.8 486.2h0M536.7 491.3h0M535.0 499.5h0M488.3 494.2h0M493.3 495.3h0M480.8 503.7h0M485.8 503.7h0M455.5 527.2h0M473.3 527.5h0M495.5 527.0h0M513.8 526.7h0M519.7 520.8h0M491.2 536.7h0M504.7 535.0h0M455.8 540.8h0M466.7 543.7h0M489.2 547.5h0M508.7 548.0h0M500.0 556.2h0M515.8 556.3h0M453.0 559.2h0M496.3 564.5h0M480.8 568.7h0M473.0 570.5h0M450.0 572.5h0M441.3 574.7h0M495.0 575.0h0M457.2 583.3h0M455.8 588.3h0M450.3 588.3h0M448.7 591.7h0M482.5 589.2h0M675.1 216.7h0M688.9 204.8h0M578.6 224.8h0M583.1 224.4h0M592.3 225.9h0M585.2 231.1h0M692.4 132.6h0M695.0 138.0h0M675.6 145.0h0M693.0 151.4h0M718.0 162.0h0M727.0 162.4h0M717.6 167.0h0M685.0 165.4h0M699.4 169.4h0M704.0 168.6h0M672.4 172.4h0M688.4 181.0h0M730.0 194.0h0M689.0 205.0h0M675.0 216.6h0M680.6 241.0h0M673.0 246.0h0M670.4 249.6h0M703.6 247.0h0M738.0 277.6h0M741.0 276.0h0M745.4 277.6h0M770.0 209.4h0M786.6 222.4h0M805.0 222.4h0M821.0 217.4h0M826.0 220.0h0M819.0 225.6h0M766.6 233.0h0M772.0 239.0h0M784.0 234.0h0M788.0 241.4h0M793.0 241.6h0M797.6 240.4h0M783.4 253.0h0M799.0 277.6h0M798.0 284.4h0M788.0 286.0h0M818.0 281.0h0M810.4 293.6h0M822.0 298.0h0M790.0 309.0h0M799.6 308.0h0M802.0 306.0h0M799.4 320.0h0M545.0 308.5h0M545.6 315.4h0M719.4 528.9h0M747.7 557.2h0M723.8 562.8h0M729.4 565.3h0M870.1 367.7h0M897.0 569.2h0M901.7 690.3h0M910.1 700.2h0M909.8 718.5h0M909.8 741.1h0M914.0 741.4h0M916.4 747.8h0M986.4 639.8h0M1006.2 649.3h0M1008.7 671.8h0M1031.5 685.7h0M1011.1 699.1h0M973.7 704.5h0M981.0 710.5h0M993.2 727.5h0M958.9 732.2h0M943.3 756.5h0M997.5 750.4h0M994.3 754.4h0M997.5 766.4h0M377.3 728.1h0M350.2 729.8h0M334.0 734.0h0M367.9 737.5h0M322.1 741.7h0M370.0 745.8h0M358.5 746.9h0M347.1 747.9h0M346.0 751.0h0M331.5 751.7h0M360.2 761.0h0M366.2 764.0h0M352.3 767.1h0M376.2 768.3h0M366.9 771.9h0M369.0 774.6h0M356.5 776.7h0M398.5 774.6h0M401.2 780.2h0M311.2 777.5h0M320.6 779.6h0M325.2 776.7h0M329.4 775.4h0M367.9 780.2h0M374.6 779.2h0M340.4 783.8h0M385.6 785.8h0M366.9 785.8h0M363.8 789.2h0M390.8 790.6h0M390.8 795.8h0M391.9 797.9h0M329.4 791.7h0M351.2 793.8h0M311.7 794.8h0M316.2 793.8h0M336.7 795.8h0M336.2 797.9h0M329.4 798.3h0M356.0 801.7h0M300.2 804.6h0M310.0 803.1h0M333.1 804.2h0M379.4 803.8h0M345.4 806.9h0M365.8 808.3h0M320.0 808.3h0M322.1 813.5h0M340.4 814.2h0M347.1 813.5h0M350.8 814.6h0M303.8 814.6h0M357.5 818.1h0M325.8 817.7h0M325.2 819.8h0M345.4 820.4h0M312.7 823.5h0M389.8 824.4h0M397.5 823.3h0M287.7 827.1h0M291.9 825.0h0M320.0 827.5h0M370.6 827.1h0M378.3 828.1h0M389.2 830.2h0M398.1 831.7h0M299.2 834.4h0M317.9 833.8h0M344.0 834.4h0M353.3 830.2h0M355.4 832.3h0M352.9 836.5h0M362.7 834.4h0M367.9 834.4h0M359.6 837.5h0M382.5 835.0h0M315.4 839.0h0M327.9 839.2h0M334.6 837.9h0M346.7 839.6h0M366.2 840.2h0M386.2 841.2h0M404.4 843.8h0M413.3 841.7h0M419.4 842.7h0M430.4 842.7h0M294.6 843.1h0M301.2 845.2h0M313.8 846.2h0M327.9 846.2h0M336.7 848.3h0M354.4 845.2h0M357.5 844.8h0M372.1 843.8h0M367.5 847.5h0M350.2 849.6h0M307.5 850.4h0M323.8 852.5h0M364.8 852.5h0M332.1 854.6h0M346.7 854.2h0M431.5 852.7h0M466.9 849.6h0M449.2 854.2h0M453.3 853.1h0M450.2 858.3h0M456.5 859.4h0M450.2 866.7h0M365.8 868.3h0M383.5 868.8h0M390.4 864.6h0M395.0 868.8h0M475.2 870.8h0M484.6 870.2h0M509.6 874.6h0M506.5 879.6h0M553.8 767.4h0M558.3 769.1h0M569.2 775.6h0M606.2 663.6h0M618.1 666.4h0M628.2 668.5h0M610.5 688.5h0M597.3 691.9h0M611.9 699.8h0M627.0 685.5h0M641.6 687.8h0M632.0 679.3h0M660.0 700.1h0M654.4 709.6h0M675.2 731.7h0M678.0 735.5h0M718.5 822.5h0M719.2 824.2h0M705.6 832.5h0M730.4 827.7h0M730.4 830.8h0M703.5 841.9h0M700.4 847.5h0M697.7 851.7h0M699.2 854.8h0M706.0 853.8h0M709.2 855.8h0M711.7 856.9h0M715.4 850.0h0M719.2 847.5h0M725.8 841.2h0M729.0 841.2h0M735.8 843.3h0M737.9 844.4h0M734.6 855.4h0M801.5 785.6h0M808.1 780.8h0M617.5 875.6h0M628.3 921.5h0M632.5 919.4h0M633.1 925.6h0M711.7 935.4h0M710.8 941.2h0M719.2 942.3h0M719.2 945.4h0M724.2 941.2h0M509.8 917.3h0M520.3 1017.7h0M518.0 1017.2h0M437.5 1043.3h0"/>
<path stroke="#855bf2" d="M243.3 522.4h0M487.5 358.3h0M429.2 396.7h0M440.0 396.2h0M410.0 440.5h0M546.3 476.3h0M694.9 452.6h0M691.4 468.0h0M708.0 468.5h0M597.0 551.7h0M546.3 476.2h0M527.2 494.5h0M563.3 499.7h0M513.7 537.0h0M490.5 578.0h0M546.9 233.8h0M793.0 273.6h0M826.0 290.0h0M789.0 314.0h0M548.9 312.4h0M960.5 367.1h0M1004.0 634.2h0M1040.7 646.4h0M1038.3 666.2h0M974.2 687.6h0M1024.6 689.2h0M1002.2 713.7h0M1027.2 722.7h0M1028.8 745.7h0M914.5 758.5h0M358.1 769.8h0M337.1 825.0h0M470.4 864.2h0M502.3 873.3h0M645.5 663.3h0M634.4 676.3h0M545.1 253.5h0"/>
<path stroke="#7c51f4" d="M523.8 984.3h0M529.2 991.5h0M658.0 981.5h0"/>
<path stroke="#673df8" d="M1007.5 639.8h0"/>
<path stroke="#5932fa" d="M451.7 391.3h0M450.0 392.5h0M701.0 181.0h0M461.0 864.6h0"/>
<path stroke="#0000ff" d="M542.1 247.2h0"/>
</g>
<rect x="94" y="51" width="3" height="1070"/>
<rect x="94" y="1118" width="1024" height="3"/>
<rect x="140.20" y="1121" width="3" height="3.7"/><text x="141.70" y="1148" text-anchor="middle" class="tk">-15</text><rect x="305.95" y="1121" width="3" height="3.7"/><text x="307.45" y="1148" text-anchor="middle" class="tk">-10</text><rect x="471.70" y="1121" width="3" height="3.7"/><text x="473.20" y="1148" text-anchor="middle" class="tk">-5</text><rect x="637.45" y="1121" width="3" height="3.7"/><text x="638.95" y="1148" text-anchor="middle" class="tk">0</text><rect x="803.20" y="1121" width="3" height="3.7"/><text x="804.70" y="1148" text-anchor="middle" class="tk">5</text><rect x="968.95" y="1121" width="3" height="3.7"/><text x="970.45" y="1148" text-anchor="middle" class="tk">10</text><rect x="90.2" y="275.80" width="3.8" height="3"/><text x="88.6" y="288.00" text-anchor="end" class="tk">10</text><rect x="90.2" y="569.70" width="3.8" height="3"/><text x="88.6" y="581.90" text-anchor="end" class="tk">0</text><rect x="90.2" y="863.70" width="3.8" height="3"/><text x="88.6" y="875.90" text-anchor="end" class="tk">-10</text>
<text x="606.3" y="37" font-size="35" font-weight="bold" text-anchor="middle" letter-spacing="-0.6">Morc2a</text>
<text x="604.2" y="1181" font-size="30.5" text-anchor="middle" letter-spacing="-0.5">umapNC_1</text>
<text transform="translate(34 585.5) rotate(-90)" font-size="30.5" text-anchor="middle">umapNC_2</text>
<defs><linearGradient id="lg" x1="0" y1="0" x2="0" y2="1"><stop offset="0.00" stop-color="#0000ff"/><stop offset="0.10" stop-color="#4926fb"/><stop offset="0.20" stop-color="#673df8"/><stop offset="0.30" stop-color="#7c51f4"/><stop offset="0.40" stop-color="#8e65f0"/><stop offset="0.50" stop-color="#9d77ec"/><stop offset="0.60" stop-color="#aa89e7"/><stop offset="0.70" stop-color="#b69ce3"/><stop offset="0.80" stop-color="#c1aede"/><stop offset="0.90" stop-color="#cac0d9"/><stop offset="1.00" stop-color="#d3d3d3"/></linearGradient></defs>
<rect x="1130" y="547" width="16" height="77" fill="url(#lg)"/>
<g stroke="#fff" stroke-width="0.9" stroke-opacity="0.75">
<path d="M1130 567.4h3M1142.8 567.4h3M1130 586.4h3M1142.8 586.4h3M1130 605.4h3M1142.8 605.4h3M1130 548.1h3M1142.8 548.1h3"/>
</g>
<text x="1153.3" y="557.6" class="lg">1.6</text>
<text x="1153.3" y="576.6" class="lg">1.2</text>
<text x="1153.3" y="595.6" class="lg">0.8</text>
<text x="1153.3" y="614.6" class="lg">0.4</text>
<text x="1153.3" y="633.6" class="lg">0.0</text>
</svg>
</body></html>
